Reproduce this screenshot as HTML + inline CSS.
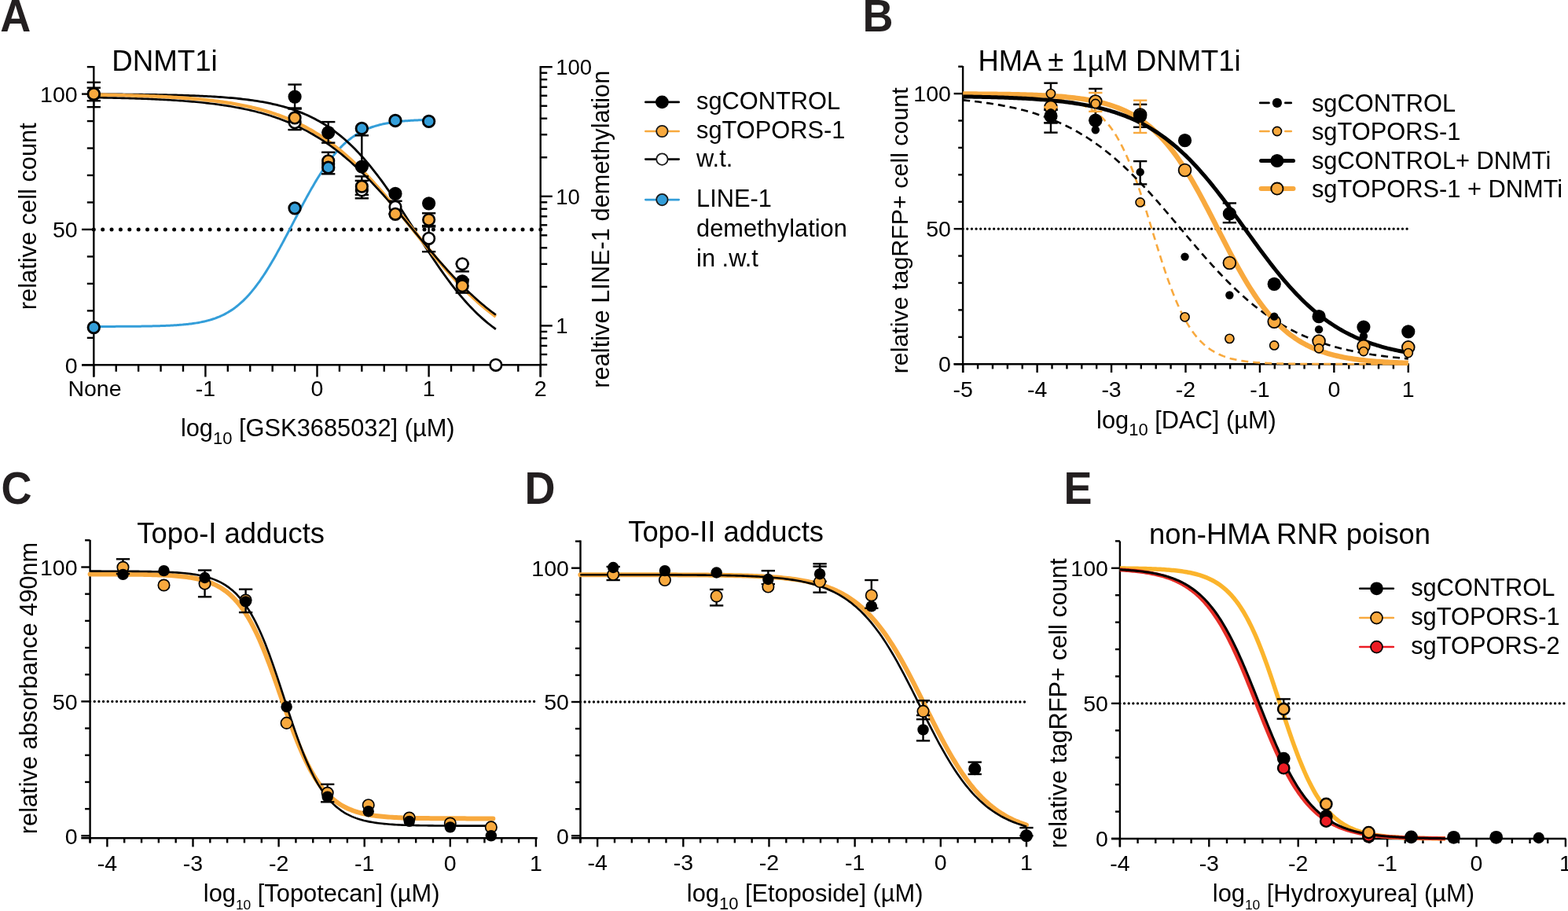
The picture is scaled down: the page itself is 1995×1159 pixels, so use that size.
<!DOCTYPE html><html><head><meta charset="utf-8"><title>Figure</title>
<style>html,body{margin:0;padding:0;background:#fff;overflow:hidden;}svg{display:block;}text{font-family:'Liberation Sans', Arial, sans-serif;}</style>
</head><body>
<svg width="1995" height="1159" viewBox="0 0 1995 1159">
<rect width="1995" height="1159" fill="#fff"/>
<text transform="translate(0.2,39.7) scale(1,1.054)" font-size="54" font-weight="bold" fill="#231F20">A</text>
<text transform="translate(1097.4,39.7) scale(1,1.054)" font-size="54" font-weight="bold" fill="#231F20">B</text>
<text transform="translate(1.6,640.7) scale(1,1.054)" font-size="54" font-weight="bold" fill="#231F20">C</text>
<text transform="translate(667.5,640.7) scale(1,1.054)" font-size="54" font-weight="bold" fill="#231F20">D</text>
<text transform="translate(1353.6,640.7) scale(1,1.054)" font-size="54" font-weight="bold" fill="#231F20">E</text>
<line x1="119.3" y1="84" x2="119.3" y2="479.5" stroke="#000" stroke-width="2.4" />
<line x1="104" y1="464.3" x2="688.9" y2="464.3" stroke="#000" stroke-width="2.4" />
<line x1="687.7" y1="84" x2="687.7" y2="479.5" stroke="#000" stroke-width="2.4" />
<line x1="104" y1="464.3" x2="119.3" y2="464.3" stroke="#000" stroke-width="2.4" />
<line x1="110.8" y1="429.83" x2="119.3" y2="429.83" stroke="#000" stroke-width="2.4" />
<line x1="110.8" y1="395.36" x2="119.3" y2="395.36" stroke="#000" stroke-width="2.4" />
<line x1="110.8" y1="360.89" x2="119.3" y2="360.89" stroke="#000" stroke-width="2.4" />
<line x1="110.8" y1="326.42" x2="119.3" y2="326.42" stroke="#000" stroke-width="2.4" />
<line x1="104" y1="291.95" x2="119.3" y2="291.95" stroke="#000" stroke-width="2.4" />
<line x1="110.8" y1="257.48" x2="119.3" y2="257.48" stroke="#000" stroke-width="2.4" />
<line x1="110.8" y1="223.01" x2="119.3" y2="223.01" stroke="#000" stroke-width="2.4" />
<line x1="110.8" y1="188.54" x2="119.3" y2="188.54" stroke="#000" stroke-width="2.4" />
<line x1="110.8" y1="154.07" x2="119.3" y2="154.07" stroke="#000" stroke-width="2.4" />
<line x1="104" y1="119.6" x2="119.3" y2="119.6" stroke="#000" stroke-width="2.4" />
<line x1="110.8" y1="85.13" x2="119.3" y2="85.13" stroke="#000" stroke-width="2.4" />
<line x1="119.3" y1="464.3" x2="119.3" y2="479.5" stroke="#000" stroke-width="2.4" />
<line x1="147.72" y1="464.3" x2="147.72" y2="472.8" stroke="#000" stroke-width="2.4" />
<line x1="176.14" y1="464.3" x2="176.14" y2="472.8" stroke="#000" stroke-width="2.4" />
<line x1="204.56" y1="464.3" x2="204.56" y2="472.8" stroke="#000" stroke-width="2.4" />
<line x1="232.98" y1="464.3" x2="232.98" y2="472.8" stroke="#000" stroke-width="2.4" />
<line x1="261.4" y1="464.3" x2="261.4" y2="479.5" stroke="#000" stroke-width="2.4" />
<line x1="289.82" y1="464.3" x2="289.82" y2="472.8" stroke="#000" stroke-width="2.4" />
<line x1="318.24" y1="464.3" x2="318.24" y2="472.8" stroke="#000" stroke-width="2.4" />
<line x1="346.66" y1="464.3" x2="346.66" y2="472.8" stroke="#000" stroke-width="2.4" />
<line x1="375.08" y1="464.3" x2="375.08" y2="472.8" stroke="#000" stroke-width="2.4" />
<line x1="403.5" y1="464.3" x2="403.5" y2="479.5" stroke="#000" stroke-width="2.4" />
<line x1="431.92" y1="464.3" x2="431.92" y2="472.8" stroke="#000" stroke-width="2.4" />
<line x1="460.34" y1="464.3" x2="460.34" y2="472.8" stroke="#000" stroke-width="2.4" />
<line x1="488.76" y1="464.3" x2="488.76" y2="472.8" stroke="#000" stroke-width="2.4" />
<line x1="517.18" y1="464.3" x2="517.18" y2="472.8" stroke="#000" stroke-width="2.4" />
<line x1="545.6" y1="464.3" x2="545.6" y2="479.5" stroke="#000" stroke-width="2.4" />
<line x1="574.02" y1="464.3" x2="574.02" y2="472.8" stroke="#000" stroke-width="2.4" />
<line x1="602.44" y1="464.3" x2="602.44" y2="472.8" stroke="#000" stroke-width="2.4" />
<line x1="630.86" y1="464.3" x2="630.86" y2="472.8" stroke="#000" stroke-width="2.4" />
<line x1="659.28" y1="464.3" x2="659.28" y2="472.8" stroke="#000" stroke-width="2.4" />
<line x1="687.7" y1="464.3" x2="687.7" y2="479.5" stroke="#000" stroke-width="2.4" />
<line x1="687.7" y1="463.95" x2="696.2" y2="463.95" stroke="#000" stroke-width="2.4" />
<line x1="687.7" y1="450.92" x2="696.2" y2="450.92" stroke="#000" stroke-width="2.4" />
<line x1="687.7" y1="439.9" x2="696.2" y2="439.9" stroke="#000" stroke-width="2.4" />
<line x1="687.7" y1="430.35" x2="696.2" y2="430.35" stroke="#000" stroke-width="2.4" />
<line x1="687.7" y1="421.93" x2="696.2" y2="421.93" stroke="#000" stroke-width="2.4" />
<line x1="687.7" y1="414.4" x2="702.8" y2="414.4" stroke="#000" stroke-width="2.4" />
<line x1="687.7" y1="364.85" x2="696.2" y2="364.85" stroke="#000" stroke-width="2.4" />
<line x1="687.7" y1="335.87" x2="696.2" y2="335.87" stroke="#000" stroke-width="2.4" />
<line x1="687.7" y1="315.3" x2="696.2" y2="315.3" stroke="#000" stroke-width="2.4" />
<line x1="687.7" y1="299.35" x2="696.2" y2="299.35" stroke="#000" stroke-width="2.4" />
<line x1="687.7" y1="286.32" x2="696.2" y2="286.32" stroke="#000" stroke-width="2.4" />
<line x1="687.7" y1="275.3" x2="696.2" y2="275.3" stroke="#000" stroke-width="2.4" />
<line x1="687.7" y1="265.75" x2="696.2" y2="265.75" stroke="#000" stroke-width="2.4" />
<line x1="687.7" y1="257.33" x2="696.2" y2="257.33" stroke="#000" stroke-width="2.4" />
<line x1="687.7" y1="249.8" x2="702.8" y2="249.8" stroke="#000" stroke-width="2.4" />
<line x1="687.7" y1="200.25" x2="696.2" y2="200.25" stroke="#000" stroke-width="2.4" />
<line x1="687.7" y1="171.27" x2="696.2" y2="171.27" stroke="#000" stroke-width="2.4" />
<line x1="687.7" y1="150.7" x2="696.2" y2="150.7" stroke="#000" stroke-width="2.4" />
<line x1="687.7" y1="134.75" x2="696.2" y2="134.75" stroke="#000" stroke-width="2.4" />
<line x1="687.7" y1="121.72" x2="696.2" y2="121.72" stroke="#000" stroke-width="2.4" />
<line x1="687.7" y1="110.7" x2="696.2" y2="110.7" stroke="#000" stroke-width="2.4" />
<line x1="687.7" y1="101.15" x2="696.2" y2="101.15" stroke="#000" stroke-width="2.4" />
<line x1="687.7" y1="92.73" x2="696.2" y2="92.73" stroke="#000" stroke-width="2.4" />
<line x1="687.7" y1="85.2" x2="702.8" y2="85.2" stroke="#000" stroke-width="2.4" />
<text x="98.6" y="474.5" font-size="28.5" text-anchor="end" fill="#000" >0</text>
<text x="98.6" y="302.15" font-size="28.5" text-anchor="end" fill="#000" >50</text>
<text x="98.6" y="129.8" font-size="28.5" text-anchor="end" fill="#000" >100</text>
<text x="120.5" y="504" font-size="28.5" text-anchor="middle" fill="#000" >None</text>
<text x="261.4" y="504" font-size="28.5" text-anchor="middle" fill="#000" >-1</text>
<text x="403.5" y="504" font-size="28.5" text-anchor="middle" fill="#000" >0</text>
<text x="545.6" y="504" font-size="28.5" text-anchor="middle" fill="#000" >1</text>
<text x="687.7" y="504" font-size="28.5" text-anchor="middle" fill="#000" >2</text>
<text x="707.2" y="424.2" font-size="27.5" text-anchor="start" fill="#000" >1</text>
<text x="707.2" y="259.6" font-size="27.5" text-anchor="start" fill="#000" >10</text>
<text x="707.2" y="95" font-size="27.5" text-anchor="start" fill="#000" >100</text>
<text x="142.2" y="90.2" font-size="36.7" text-anchor="start" fill="#000" >DNMT1i</text>
<text transform="translate(46.3,275.2) rotate(-90)" x="0" y="0" font-size="30.8" text-anchor="middle" >relative cell count</text>
<text transform="translate(775,291.7) rotate(-90)" x="0" y="0" font-size="30.8" text-anchor="middle" >realtive LINE-1 demethylation</text>
<text x="229.9" y="554.8" font-size="30.8">log<tspan font-size="22" dy="10.1">10</tspan><tspan dy="-10.1"> [GSK3685032] (µM)</tspan></text>
<line x1="119.3" y1="291.95" x2="688.5" y2="291.95" stroke="#000" stroke-width="5" stroke-linecap="round" stroke-dasharray="0 11.37"/>
<path d="M119.3,415.44 L120.72,415.44 L122.14,415.44 L123.56,415.44 L124.98,415.43 L126.41,415.43 L127.83,415.43 L129.25,415.43 L130.67,415.42 L132.09,415.42 L133.51,415.42 L134.93,415.41 L136.35,415.41 L137.77,415.4 L139.19,415.4 L140.62,415.4 L142.04,415.39 L143.46,415.39 L144.88,415.38 L146.3,415.38 L147.72,415.37 L149.14,415.37 L150.56,415.36 L151.98,415.35 L153.4,415.35 L154.83,415.34 L156.25,415.33 L157.67,415.32 L159.09,415.31 L160.51,415.31 L161.93,415.3 L163.35,415.29 L164.77,415.28 L166.19,415.27 L167.61,415.25 L169.04,415.24 L170.46,415.23 L171.88,415.22 L173.3,415.2 L174.72,415.19 L176.14,415.17 L177.56,415.15 L178.98,415.14 L180.4,415.12 L181.82,415.1 L183.25,415.08 L184.67,415.06 L186.09,415.03 L187.51,415.01 L188.93,414.98 L190.35,414.96 L191.77,414.93 L193.19,414.9 L194.61,414.87 L196.03,414.84 L197.46,414.8 L198.88,414.76 L200.3,414.73 L201.72,414.69 L203.14,414.64 L204.56,414.6 L205.98,414.55 L207.4,414.5 L208.82,414.45 L210.24,414.39 L211.66,414.34 L213.09,414.28 L214.51,414.21 L215.93,414.14 L217.35,414.07 L218.77,414 L220.19,413.92 L221.61,413.84 L223.03,413.75 L224.45,413.66 L225.88,413.56 L227.3,413.46 L228.72,413.35 L230.14,413.24 L231.56,413.12 L232.98,413 L234.4,412.86 L235.82,412.73 L237.24,412.58 L238.66,412.43 L240.09,412.27 L241.51,412.1 L242.93,411.92 L244.35,411.74 L245.77,411.54 L247.19,411.34 L248.61,411.12 L250.03,410.89 L251.45,410.65 L252.87,410.4 L254.29,410.14 L255.72,409.87 L257.14,409.58 L258.56,409.27 L259.98,408.95 L261.4,408.62 L262.82,408.27 L264.24,407.9 L265.66,407.52 L267.08,407.12 L268.5,406.69 L269.93,406.25 L271.35,405.79 L272.77,405.3 L274.19,404.8 L275.61,404.27 L277.03,403.71 L278.45,403.14 L279.87,402.53 L281.29,401.9 L282.71,401.24 L284.14,400.55 L285.56,399.84 L286.98,399.09 L288.4,398.31 L289.82,397.5 L291.24,396.66 L292.66,395.78 L294.08,394.87 L295.5,393.92 L296.93,392.93 L298.35,391.91 L299.77,390.85 L301.19,389.75 L302.61,388.61 L304.03,387.43 L305.45,386.21 L306.87,384.95 L308.29,383.64 L309.71,382.29 L311.13,380.9 L312.56,379.46 L313.98,377.98 L315.4,376.46 L316.82,374.89 L318.24,373.28 L319.66,371.62 L321.08,369.91 L322.5,368.17 L323.92,366.37 L325.35,364.54 L326.77,362.66 L328.19,360.73 L329.61,358.77 L331.03,356.76 L332.45,354.71 L333.87,352.61 L335.29,350.48 L336.71,348.31 L338.13,346.1 L339.56,343.85 L340.98,341.57 L342.4,339.25 L343.82,336.89 L345.24,334.51 L346.66,332.09 L348.08,329.64 L349.5,327.16 L350.92,324.66 L352.34,322.13 L353.76,319.57 L355.19,316.99 L356.61,314.39 L358.03,311.77 L359.45,309.14 L360.87,306.48 L362.29,303.81 L363.71,301.13 L365.13,298.44 L366.55,295.74 L367.98,293.03 L369.4,290.31 L370.82,287.59 L372.24,284.87 L373.66,282.14 L375.08,279.42 L376.5,276.7 L377.92,273.98 L379.34,271.27 L380.76,268.57 L382.19,265.88 L383.61,263.2 L385.03,260.53 L386.45,257.88 L387.87,255.24 L389.29,252.62 L390.71,250.02 L392.13,247.44 L393.55,244.89 L394.97,242.36 L396.39,239.85 L397.82,237.38 L399.24,234.93 L400.66,232.51 L402.08,230.13 L403.5,227.78 L404.92,225.46 L406.34,223.17 L407.76,220.93 L409.18,218.72 L410.6,216.55 L412.03,214.42 L413.45,212.32 L414.87,210.27 L416.29,208.27 L417.71,206.3 L419.13,204.38 L420.55,202.5 L421.97,200.66 L423.39,198.87 L424.81,197.13 L426.24,195.43 L427.66,193.77 L429.08,192.16 L430.5,190.59 L431.92,189.07 L433.34,187.59 L434.76,186.15 L436.18,184.76 L437.6,183.42 L439.02,182.11 L440.45,180.85 L441.87,179.63 L443.29,178.45 L444.71,177.31 L446.13,176.21 L447.55,175.15 L448.97,174.13 L450.39,173.15 L451.81,172.2 L453.24,171.29 L454.66,170.41 L456.08,169.57 L457.5,168.76 L458.92,167.98 L460.34,167.24 L461.76,166.52 L463.18,165.83 L464.6,165.18 L466.02,164.55 L467.45,163.94 L468.87,163.37 L470.29,162.81 L471.71,162.28 L473.13,161.78 L474.55,161.29 L475.97,160.83 L477.39,160.39 L478.81,159.97 L480.23,159.57 L481.65,159.18 L483.08,158.82 L484.5,158.47 L485.92,158.13 L487.34,157.82 L488.76,157.51 L490.18,157.22 L491.6,156.95 L493.02,156.69 L494.44,156.44 L495.87,156.2 L497.29,155.97 L498.71,155.76 L500.13,155.55 L501.55,155.36 L502.97,155.17 L504.39,154.99 L505.81,154.82 L507.23,154.66 L508.65,154.51 L510.07,154.37 L511.5,154.23 L512.92,154.1 L514.34,153.97 L515.76,153.86 L517.18,153.74 L518.6,153.64 L520.02,153.54 L521.44,153.44 L522.86,153.35 L524.28,153.26 L525.71,153.18 L527.13,153.1 L528.55,153.02 L529.97,152.95 L531.39,152.88 L532.81,152.82 L534.23,152.76 L535.65,152.7 L537.07,152.65 L538.5,152.59 L539.92,152.55 L541.34,152.5 L542.76,152.45 L544.18,152.41 L545.6,152.37" fill="none" stroke="#349ED9" stroke-width="3.0" stroke-linejoin="round" />
<path d="M119.3,119.81 L121.86,119.82 L124.42,119.83 L126.97,119.84 L129.53,119.86 L132.09,119.87 L134.65,119.88 L137.2,119.89 L139.76,119.91 L142.32,119.92 L144.88,119.94 L147.44,119.95 L149.99,119.97 L152.55,119.99 L155.11,120.01 L157.67,120.03 L160.22,120.05 L162.78,120.07 L165.34,120.09 L167.9,120.11 L170.46,120.14 L173.01,120.16 L175.57,120.19 L178.13,120.22 L180.69,120.25 L183.25,120.28 L185.8,120.31 L188.36,120.34 L190.92,120.38 L193.48,120.41 L196.03,120.45 L198.59,120.49 L201.15,120.53 L203.71,120.58 L206.27,120.62 L208.82,120.67 L211.38,120.72 L213.94,120.78 L216.5,120.83 L219.05,120.89 L221.61,120.95 L224.17,121.02 L226.73,121.08 L229.29,121.15 L231.84,121.23 L234.4,121.3 L236.96,121.38 L239.52,121.47 L242.07,121.56 L244.63,121.65 L247.19,121.74 L249.75,121.85 L252.31,121.95 L254.86,122.06 L257.42,122.18 L259.98,122.3 L262.54,122.43 L265.09,122.56 L267.65,122.7 L270.21,122.85 L272.77,123 L275.33,123.16 L277.88,123.32 L280.44,123.5 L283,123.68 L285.56,123.87 L288.11,124.07 L290.67,124.28 L293.23,124.5 L295.79,124.73 L298.35,124.97 L300.9,125.22 L303.46,125.49 L306.02,125.76 L308.58,126.05 L311.13,126.35 L313.69,126.66 L316.25,126.99 L318.81,127.33 L321.37,127.69 L323.92,128.06 L326.48,128.46 L329.04,128.86 L331.6,129.29 L334.16,129.74 L336.71,130.21 L339.27,130.69 L341.83,131.2 L344.39,131.73 L346.94,132.29 L349.5,132.87 L352.06,133.47 L354.62,134.1 L357.18,134.76 L359.73,135.45 L362.29,136.16 L364.85,136.91 L367.41,137.69 L369.96,138.5 L372.52,139.35 L375.08,140.23 L377.64,141.14 L380.2,142.1 L382.75,143.1 L385.31,144.13 L387.87,145.21 L390.43,146.33 L392.98,147.5 L395.54,148.71 L398.1,149.97 L400.66,151.28 L403.22,152.64 L405.77,154.05 L408.33,155.52 L410.89,157.04 L413.45,158.61 L416,160.25 L418.56,161.94 L421.12,163.69 L423.68,165.51 L426.24,167.38 L428.79,169.32 L431.35,171.33 L433.91,173.4 L436.47,175.54 L439.02,177.75 L441.58,180.03 L444.14,182.37 L446.7,184.79 L449.26,187.27 L451.81,189.83 L454.37,192.46 L456.93,195.16 L459.49,197.93 L462.05,200.78 L464.6,203.69 L467.16,206.67 L469.72,209.73 L472.28,212.85 L474.83,216.04 L477.39,219.29 L479.95,222.61 L482.51,225.99 L485.07,229.43 L487.62,232.93 L490.18,236.49 L492.74,240.09 L495.3,243.75 L497.85,247.46 L500.41,251.21 L502.97,255.01 L505.53,258.84 L508.09,262.7 L510.64,266.6 L513.2,270.52 L515.76,274.47 L518.32,278.43 L520.87,282.41 L523.43,286.4 L525.99,290.4 L528.55,294.39 L531.11,298.39 L533.66,302.37 L536.22,306.35 L538.78,310.31 L541.34,314.25 L543.89,318.17 L546.45,322.06 L549.01,325.92 L551.57,329.74 L554.13,333.52 L556.68,337.27 L559.24,340.96 L561.8,344.61 L564.36,348.21 L566.91,351.75 L569.47,355.24 L572.03,358.67 L574.59,362.03 L577.15,365.34 L579.7,368.58 L582.26,371.75 L584.82,374.86 L587.38,377.89 L589.94,380.86 L592.49,383.76 L595.05,386.59 L597.61,389.34 L600.17,392.03 L602.72,394.64 L605.28,397.18 L607.84,399.66 L610.4,402.06 L612.96,404.39 L615.51,406.65 L618.07,408.84 L620.63,410.96 L623.19,413.02 L625.74,415.01 L628.3,416.94 L630.86,418.8" fill="none" stroke="#000" stroke-width="2.8" stroke-linejoin="round" />
<path d="M119.3,120.58 L121.86,120.62 L124.42,120.65 L126.97,120.69 L129.53,120.73 L132.09,120.78 L134.65,120.82 L137.2,120.87 L139.76,120.91 L142.32,120.96 L144.88,121.01 L147.44,121.07 L149.99,121.12 L152.55,121.18 L155.11,121.24 L157.67,121.3 L160.22,121.36 L162.78,121.43 L165.34,121.5 L167.9,121.57 L170.46,121.64 L173.01,121.72 L175.57,121.8 L178.13,121.88 L180.69,121.96 L183.25,122.05 L185.8,122.14 L188.36,122.24 L190.92,122.34 L193.48,122.44 L196.03,122.55 L198.59,122.66 L201.15,122.77 L203.71,122.89 L206.27,123.01 L208.82,123.14 L211.38,123.27 L213.94,123.41 L216.5,123.55 L219.05,123.69 L221.61,123.85 L224.17,124 L226.73,124.17 L229.29,124.34 L231.84,124.51 L234.4,124.69 L236.96,124.88 L239.52,125.08 L242.07,125.28 L244.63,125.49 L247.19,125.71 L249.75,125.93 L252.31,126.17 L254.86,126.41 L257.42,126.66 L259.98,126.92 L262.54,127.19 L265.09,127.47 L267.65,127.76 L270.21,128.06 L272.77,128.37 L275.33,128.69 L277.88,129.02 L280.44,129.37 L283,129.72 L285.56,130.09 L288.11,130.48 L290.67,130.87 L293.23,131.28 L295.79,131.7 L298.35,132.14 L300.9,132.6 L303.46,133.07 L306.02,133.55 L308.58,134.06 L311.13,134.58 L313.69,135.11 L316.25,135.67 L318.81,136.25 L321.37,136.84 L323.92,137.46 L326.48,138.09 L329.04,138.75 L331.6,139.43 L334.16,140.13 L336.71,140.85 L339.27,141.6 L341.83,142.38 L344.39,143.17 L346.94,144 L349.5,144.85 L352.06,145.73 L354.62,146.63 L357.18,147.57 L359.73,148.53 L362.29,149.52 L364.85,150.55 L367.41,151.61 L369.96,152.69 L372.52,153.81 L375.08,154.97 L377.64,156.16 L380.2,157.38 L382.75,158.64 L385.31,159.94 L387.87,161.28 L390.43,162.65 L392.98,164.06 L395.54,165.51 L398.1,167 L400.66,168.53 L403.22,170.1 L405.77,171.71 L408.33,173.37 L410.89,175.06 L413.45,176.8 L416,178.59 L418.56,180.41 L421.12,182.29 L423.68,184.2 L426.24,186.16 L428.79,188.17 L431.35,190.22 L433.91,192.32 L436.47,194.46 L439.02,196.64 L441.58,198.88 L444.14,201.15 L446.7,203.47 L449.26,205.84 L451.81,208.25 L454.37,210.7 L456.93,213.2 L459.49,215.74 L462.05,218.32 L464.6,220.94 L467.16,223.6 L469.72,226.31 L472.28,229.04 L474.83,231.82 L477.39,234.63 L479.95,237.48 L482.51,240.36 L485.07,243.28 L487.62,246.22 L490.18,249.19 L492.74,252.19 L495.3,255.22 L497.85,258.27 L500.41,261.34 L502.97,264.43 L505.53,267.54 L508.09,270.67 L510.64,273.81 L513.2,276.96 L515.76,280.12 L518.32,283.29 L520.87,286.47 L523.43,289.65 L525.99,292.83 L528.55,296.02 L531.11,299.19 L533.66,302.37 L536.22,305.54 L538.78,308.69 L541.34,311.84 L543.89,314.97 L546.45,318.09 L549.01,321.19 L551.57,324.27 L554.13,327.33 L556.68,330.37 L559.24,333.38 L561.8,336.36 L564.36,339.32 L566.91,342.25 L569.47,345.14 L572.03,348 L574.59,350.83 L577.15,353.63 L579.7,356.38 L582.26,359.1 L584.82,361.78 L587.38,364.42 L589.94,367.02 L592.49,369.58 L595.05,372.09 L597.61,374.57 L600.17,376.99 L602.72,379.38 L605.28,381.72 L607.84,384.02 L610.4,386.27 L612.96,388.48 L615.51,390.64 L618.07,392.75 L620.63,394.83 L623.19,396.85 L625.74,398.83 L628.3,400.77 L630.86,402.66" fill="none" stroke="#F8A93E" stroke-width="4.4" stroke-linejoin="round" />
<path d="M119.3,124.14 L121.86,124.18 L124.42,124.22 L126.97,124.26 L129.53,124.31 L132.09,124.35 L134.65,124.4 L137.2,124.45 L139.76,124.5 L142.32,124.56 L144.88,124.61 L147.44,124.67 L149.99,124.73 L152.55,124.79 L155.11,124.85 L157.67,124.92 L160.22,124.99 L162.78,125.06 L165.34,125.13 L167.9,125.21 L170.46,125.29 L173.01,125.37 L175.57,125.45 L178.13,125.54 L180.69,125.63 L183.25,125.72 L185.8,125.82 L188.36,125.92 L190.92,126.03 L193.48,126.14 L196.03,126.25 L198.59,126.36 L201.15,126.49 L203.71,126.61 L206.27,126.74 L208.82,126.87 L211.38,127.01 L213.94,127.16 L216.5,127.31 L219.05,127.46 L221.61,127.62 L224.17,127.79 L226.73,127.96 L229.29,128.13 L231.84,128.32 L234.4,128.51 L236.96,128.71 L239.52,128.91 L242.07,129.12 L244.63,129.34 L247.19,129.57 L249.75,129.8 L252.31,130.05 L254.86,130.3 L257.42,130.56 L259.98,130.83 L262.54,131.11 L265.09,131.39 L267.65,131.69 L270.21,132 L272.77,132.32 L275.33,132.65 L277.88,132.99 L280.44,133.35 L283,133.72 L285.56,134.09 L288.11,134.49 L290.67,134.89 L293.23,135.31 L295.79,135.74 L298.35,136.19 L300.9,136.66 L303.46,137.14 L306.02,137.63 L308.58,138.14 L311.13,138.67 L313.69,139.22 L316.25,139.78 L318.81,140.37 L321.37,140.97 L323.92,141.59 L326.48,142.23 L329.04,142.9 L331.6,143.58 L334.16,144.29 L336.71,145.02 L339.27,145.77 L341.83,146.55 L344.39,147.35 L346.94,148.18 L349.5,149.03 L352.06,149.91 L354.62,150.81 L357.18,151.75 L359.73,152.71 L362.29,153.7 L364.85,154.72 L367.41,155.77 L369.96,156.86 L372.52,157.97 L375.08,159.12 L377.64,160.3 L380.2,161.51 L382.75,162.76 L385.31,164.04 L387.87,165.36 L390.43,166.71 L392.98,168.11 L395.54,169.53 L398.1,171 L400.66,172.51 L403.22,174.05 L405.77,175.64 L408.33,177.26 L410.89,178.92 L413.45,180.63 L416,182.38 L418.56,184.16 L421.12,185.99 L423.68,187.87 L426.24,189.78 L428.79,191.74 L431.35,193.74 L433.91,195.78 L436.47,197.87 L439.02,199.99 L441.58,202.16 L444.14,204.38 L446.7,206.63 L449.26,208.93 L451.81,211.27 L454.37,213.64 L456.93,216.06 L459.49,218.52 L462.05,221.02 L464.6,223.56 L467.16,226.14 L469.72,228.75 L472.28,231.4 L474.83,234.08 L477.39,236.8 L479.95,239.55 L482.51,242.33 L485.07,245.15 L487.62,247.99 L490.18,250.86 L492.74,253.75 L495.3,256.67 L497.85,259.61 L500.41,262.58 L502.97,265.56 L505.53,268.56 L508.09,271.58 L510.64,274.61 L513.2,277.66 L515.76,280.71 L518.32,283.77 L520.87,286.84 L523.43,289.91 L525.99,292.99 L528.55,296.07 L531.11,299.14 L533.66,302.21 L536.22,305.28 L538.78,308.33 L541.34,311.38 L543.89,314.42 L546.45,317.44 L549.01,320.45 L551.57,323.44 L554.13,326.42 L556.68,329.37 L559.24,332.3 L561.8,335.21 L564.36,338.09 L566.91,340.94 L569.47,343.77 L572.03,346.56 L574.59,349.33 L577.15,352.06 L579.7,354.76 L582.26,357.42 L584.82,360.05 L587.38,362.65 L589.94,365.2 L592.49,367.72 L595.05,370.19 L597.61,372.63 L600.17,375.03 L602.72,377.39 L605.28,379.7 L607.84,381.97 L610.4,384.21 L612.96,386.39 L615.51,388.54 L618.07,390.64 L620.63,392.71 L623.19,394.72 L625.74,396.7 L628.3,398.63 L630.86,400.53" fill="none" stroke="#000" stroke-width="2.6" stroke-linejoin="round" />
<line x1="119.3" y1="104.78" x2="119.3" y2="136.15" stroke="#000" stroke-width="2.4" />
<line x1="110.65" y1="104.78" x2="127.95" y2="104.78" stroke="#000" stroke-width="2.4" />
<line x1="110.65" y1="136.15" x2="127.95" y2="136.15" stroke="#000" stroke-width="2.4" />
<line x1="119.3" y1="111.67" x2="119.3" y2="128.22" stroke="#000" stroke-width="2.4" />
<line x1="110.65" y1="111.67" x2="127.95" y2="111.67" stroke="#000" stroke-width="2.4" />
<line x1="110.65" y1="128.22" x2="127.95" y2="128.22" stroke="#000" stroke-width="2.4" />
<line x1="375.08" y1="107.54" x2="375.08" y2="138.56" stroke="#000" stroke-width="2.4" />
<line x1="366.43" y1="107.54" x2="383.73" y2="107.54" stroke="#000" stroke-width="2.4" />
<line x1="366.43" y1="138.56" x2="383.73" y2="138.56" stroke="#000" stroke-width="2.4" />
<line x1="375.08" y1="137.52" x2="375.08" y2="165.1" stroke="#000" stroke-width="2.4" />
<line x1="366.43" y1="137.52" x2="383.73" y2="137.52" stroke="#000" stroke-width="2.4" />
<line x1="366.43" y1="165.1" x2="383.73" y2="165.1" stroke="#000" stroke-width="2.4" />
<line x1="417.71" y1="155.1" x2="417.71" y2="181.65" stroke="#000" stroke-width="2.4" />
<line x1="409.06" y1="155.1" x2="426.36" y2="155.1" stroke="#000" stroke-width="2.4" />
<line x1="409.06" y1="181.65" x2="426.36" y2="181.65" stroke="#000" stroke-width="2.4" />
<line x1="417.71" y1="193.71" x2="417.71" y2="221.29" stroke="#000" stroke-width="2.4" />
<line x1="409.06" y1="193.71" x2="426.36" y2="193.71" stroke="#000" stroke-width="2.4" />
<line x1="409.06" y1="221.29" x2="426.36" y2="221.29" stroke="#000" stroke-width="2.4" />
<line x1="460.34" y1="172.34" x2="460.34" y2="211.98" stroke="#000" stroke-width="2.4" />
<line x1="451.69" y1="172.34" x2="468.99" y2="172.34" stroke="#000" stroke-width="2.4" />
<line x1="451.69" y1="211.98" x2="468.99" y2="211.98" stroke="#000" stroke-width="2.4" />
<line x1="460.34" y1="224.39" x2="460.34" y2="252.31" stroke="#000" stroke-width="2.4" />
<line x1="451.69" y1="224.39" x2="468.99" y2="224.39" stroke="#000" stroke-width="2.4" />
<line x1="451.69" y1="252.31" x2="468.99" y2="252.31" stroke="#000" stroke-width="2.4" />
<line x1="460.34" y1="229.9" x2="460.34" y2="247.83" stroke="#000" stroke-width="2.4" />
<line x1="451.69" y1="229.9" x2="468.99" y2="229.9" stroke="#000" stroke-width="2.4" />
<line x1="451.69" y1="247.83" x2="468.99" y2="247.83" stroke="#000" stroke-width="2.4" />
<line x1="502.97" y1="255.76" x2="502.97" y2="272.3" stroke="#000" stroke-width="2.4" />
<line x1="494.32" y1="255.76" x2="511.62" y2="255.76" stroke="#000" stroke-width="2.4" />
<line x1="494.32" y1="272.3" x2="511.62" y2="272.3" stroke="#000" stroke-width="2.4" />
<line x1="545.6" y1="271.27" x2="545.6" y2="287.12" stroke="#000" stroke-width="2.4" />
<line x1="536.95" y1="271.27" x2="554.25" y2="271.27" stroke="#000" stroke-width="2.4" />
<line x1="536.95" y1="287.12" x2="554.25" y2="287.12" stroke="#000" stroke-width="2.4" />
<line x1="545.6" y1="288.5" x2="545.6" y2="320.22" stroke="#000" stroke-width="2.4" />
<line x1="536.95" y1="288.5" x2="554.25" y2="288.5" stroke="#000" stroke-width="2.4" />
<line x1="536.95" y1="320.22" x2="554.25" y2="320.22" stroke="#000" stroke-width="2.4" />
<line x1="588.23" y1="335.73" x2="588.23" y2="345.38" stroke="#000" stroke-width="2.4" />
<line x1="579.58" y1="335.73" x2="596.88" y2="335.73" stroke="#000" stroke-width="2.4" />
<line x1="579.58" y1="345.38" x2="596.88" y2="345.38" stroke="#000" stroke-width="2.4" />
<line x1="588.23" y1="355.72" x2="588.23" y2="372.61" stroke="#000" stroke-width="2.4" />
<line x1="579.58" y1="355.72" x2="596.88" y2="355.72" stroke="#000" stroke-width="2.4" />
<line x1="579.58" y1="372.61" x2="596.88" y2="372.61" stroke="#000" stroke-width="2.4" />
<circle cx="119.3" cy="119.6" r="7.3" fill="#fff" stroke="#000" stroke-width="2.6"/>
<circle cx="375.08" cy="155.79" r="7.3" fill="#fff" stroke="#000" stroke-width="2.6"/>
<circle cx="417.71" cy="208.53" r="7.3" fill="#fff" stroke="#000" stroke-width="2.6"/>
<circle cx="460.34" cy="241.97" r="7.3" fill="#fff" stroke="#000" stroke-width="2.6"/>
<circle cx="502.97" cy="263.34" r="7.3" fill="#fff" stroke="#000" stroke-width="2.6"/>
<circle cx="545.6" cy="303.33" r="7.3" fill="#fff" stroke="#000" stroke-width="2.6"/>
<circle cx="588.23" cy="335.73" r="7.3" fill="#fff" stroke="#000" stroke-width="2.6"/>
<circle cx="630.86" cy="464.3" r="7.3" fill="#fff" stroke="#000" stroke-width="2.6"/>
<circle cx="119.3" cy="119.6" r="8.6" fill="#000"/>
<circle cx="375.08" cy="123.05" r="8.6" fill="#000"/>
<circle cx="417.71" cy="168.55" r="8.6" fill="#000"/>
<circle cx="460.34" cy="211.98" r="8.6" fill="#000"/>
<circle cx="502.97" cy="246.45" r="8.6" fill="#000"/>
<circle cx="545.6" cy="258.86" r="8.6" fill="#000"/>
<circle cx="588.23" cy="357.79" r="8.6" fill="#000"/>
<circle cx="119.3" cy="119.6" r="7.3" fill="#F8A93E" stroke="#000" stroke-width="2.6"/>
<circle cx="375.08" cy="149.93" r="7.3" fill="#F8A93E" stroke="#000" stroke-width="2.6"/>
<circle cx="417.71" cy="204.74" r="7.3" fill="#F8A93E" stroke="#000" stroke-width="2.6"/>
<circle cx="460.34" cy="237.14" r="7.3" fill="#F8A93E" stroke="#000" stroke-width="2.6"/>
<circle cx="502.97" cy="272.3" r="7.3" fill="#F8A93E" stroke="#000" stroke-width="2.6"/>
<circle cx="545.6" cy="279.54" r="7.3" fill="#F8A93E" stroke="#000" stroke-width="2.6"/>
<circle cx="588.23" cy="363.65" r="7.3" fill="#F8A93E" stroke="#000" stroke-width="2.6"/>
<circle cx="119.3" cy="416.58" r="7.3" fill="#349ED9" stroke="#000" stroke-width="2.8"/>
<circle cx="375.08" cy="264.86" r="7.3" fill="#349ED9" stroke="#000" stroke-width="2.8"/>
<circle cx="417.71" cy="213.14" r="7.3" fill="#349ED9" stroke="#000" stroke-width="2.8"/>
<circle cx="460.34" cy="163.38" r="7.3" fill="#349ED9" stroke="#000" stroke-width="2.8"/>
<circle cx="502.97" cy="153.43" r="7.3" fill="#349ED9" stroke="#000" stroke-width="2.8"/>
<circle cx="545.6" cy="154.37" r="7.3" fill="#349ED9" stroke="#000" stroke-width="2.8"/>
<line x1="821.3" y1="129.9" x2="863.7" y2="129.9" stroke="#000" stroke-width="2.6" stroke-linecap="round"/>
<circle cx="842.4" cy="129.9" r="8.4" fill="#000"/>
<text x="886.07" y="138.9" font-size="30.8" text-anchor="start" fill="#000" >sgCONTROL</text>
<line x1="821.3" y1="167" x2="863.7" y2="167" stroke="#F8A93E" stroke-width="2.6" stroke-linecap="round"/>
<circle cx="842.4" cy="167" r="7.2" fill="#F8A93E" stroke="#1a1a1a" stroke-width="1.8"/>
<text x="886.07" y="176" font-size="30.8" text-anchor="start" fill="#000" >sgTOPORS-1</text>
<line x1="821.3" y1="202.6" x2="863.7" y2="202.6" stroke="#000" stroke-width="2.6" stroke-linecap="round"/>
<circle cx="842.4" cy="202.6" r="7.2" fill="#fff" stroke="#1a1a1a" stroke-width="1.8"/>
<text x="886.07" y="211.6" font-size="30.8" text-anchor="start" fill="#000" >w.t.</text>
<line x1="821.3" y1="254.1" x2="863.7" y2="254.1" stroke="#349ED9" stroke-width="2.6" stroke-linecap="round"/>
<circle cx="842.4" cy="254.1" r="7.2" fill="#349ED9" stroke="#1a1a1a" stroke-width="1.8"/>
<text x="886.07" y="263.1" font-size="30.8" text-anchor="start" fill="#000" >LINE-1</text>
<text x="886.07" y="300.7" font-size="30.8" text-anchor="start" fill="#000" >demethylation</text>
<text x="886.07" y="338.6" font-size="30.8" text-anchor="start" fill="#000" >in .w.t</text>
<line x1="1225.1" y1="84" x2="1225.1" y2="474" stroke="#000" stroke-width="2.4" />
<line x1="1213.6" y1="463.2" x2="1792.7" y2="463.2" stroke="#000" stroke-width="2.4" />
<line x1="1213.6" y1="463.2" x2="1225.1" y2="463.2" stroke="#000" stroke-width="2.4" />
<line x1="1219.2" y1="428.79" x2="1225.1" y2="428.79" stroke="#000" stroke-width="2.4" />
<line x1="1219.2" y1="394.38" x2="1225.1" y2="394.38" stroke="#000" stroke-width="2.4" />
<line x1="1219.2" y1="359.97" x2="1225.1" y2="359.97" stroke="#000" stroke-width="2.4" />
<line x1="1219.2" y1="325.56" x2="1225.1" y2="325.56" stroke="#000" stroke-width="2.4" />
<line x1="1213.6" y1="291.15" x2="1225.1" y2="291.15" stroke="#000" stroke-width="2.4" />
<line x1="1219.2" y1="256.74" x2="1225.1" y2="256.74" stroke="#000" stroke-width="2.4" />
<line x1="1219.2" y1="222.33" x2="1225.1" y2="222.33" stroke="#000" stroke-width="2.4" />
<line x1="1219.2" y1="187.92" x2="1225.1" y2="187.92" stroke="#000" stroke-width="2.4" />
<line x1="1219.2" y1="153.51" x2="1225.1" y2="153.51" stroke="#000" stroke-width="2.4" />
<line x1="1213.6" y1="119.1" x2="1225.1" y2="119.1" stroke="#000" stroke-width="2.4" />
<line x1="1219.2" y1="84.69" x2="1225.1" y2="84.69" stroke="#000" stroke-width="2.4" />
<line x1="1225.2" y1="463.2" x2="1225.2" y2="474" stroke="#000" stroke-width="2.4" />
<line x1="1244.09" y1="463.2" x2="1244.09" y2="469.4" stroke="#000" stroke-width="2.4" />
<line x1="1262.97" y1="463.2" x2="1262.97" y2="469.4" stroke="#000" stroke-width="2.4" />
<line x1="1281.86" y1="463.2" x2="1281.86" y2="469.4" stroke="#000" stroke-width="2.4" />
<line x1="1300.74" y1="463.2" x2="1300.74" y2="469.4" stroke="#000" stroke-width="2.4" />
<line x1="1319.63" y1="463.2" x2="1319.63" y2="474" stroke="#000" stroke-width="2.4" />
<line x1="1338.52" y1="463.2" x2="1338.52" y2="469.4" stroke="#000" stroke-width="2.4" />
<line x1="1357.4" y1="463.2" x2="1357.4" y2="469.4" stroke="#000" stroke-width="2.4" />
<line x1="1376.29" y1="463.2" x2="1376.29" y2="469.4" stroke="#000" stroke-width="2.4" />
<line x1="1395.17" y1="463.2" x2="1395.17" y2="469.4" stroke="#000" stroke-width="2.4" />
<line x1="1414.06" y1="463.2" x2="1414.06" y2="474" stroke="#000" stroke-width="2.4" />
<line x1="1432.95" y1="463.2" x2="1432.95" y2="469.4" stroke="#000" stroke-width="2.4" />
<line x1="1451.83" y1="463.2" x2="1451.83" y2="469.4" stroke="#000" stroke-width="2.4" />
<line x1="1470.72" y1="463.2" x2="1470.72" y2="469.4" stroke="#000" stroke-width="2.4" />
<line x1="1489.6" y1="463.2" x2="1489.6" y2="469.4" stroke="#000" stroke-width="2.4" />
<line x1="1508.49" y1="463.2" x2="1508.49" y2="474" stroke="#000" stroke-width="2.4" />
<line x1="1527.38" y1="463.2" x2="1527.38" y2="469.4" stroke="#000" stroke-width="2.4" />
<line x1="1546.26" y1="463.2" x2="1546.26" y2="469.4" stroke="#000" stroke-width="2.4" />
<line x1="1565.15" y1="463.2" x2="1565.15" y2="469.4" stroke="#000" stroke-width="2.4" />
<line x1="1584.03" y1="463.2" x2="1584.03" y2="469.4" stroke="#000" stroke-width="2.4" />
<line x1="1602.92" y1="463.2" x2="1602.92" y2="474" stroke="#000" stroke-width="2.4" />
<line x1="1621.81" y1="463.2" x2="1621.81" y2="469.4" stroke="#000" stroke-width="2.4" />
<line x1="1640.69" y1="463.2" x2="1640.69" y2="469.4" stroke="#000" stroke-width="2.4" />
<line x1="1659.58" y1="463.2" x2="1659.58" y2="469.4" stroke="#000" stroke-width="2.4" />
<line x1="1678.46" y1="463.2" x2="1678.46" y2="469.4" stroke="#000" stroke-width="2.4" />
<line x1="1697.35" y1="463.2" x2="1697.35" y2="474" stroke="#000" stroke-width="2.4" />
<line x1="1716.24" y1="463.2" x2="1716.24" y2="469.4" stroke="#000" stroke-width="2.4" />
<line x1="1735.12" y1="463.2" x2="1735.12" y2="469.4" stroke="#000" stroke-width="2.4" />
<line x1="1754.01" y1="463.2" x2="1754.01" y2="469.4" stroke="#000" stroke-width="2.4" />
<line x1="1772.89" y1="463.2" x2="1772.89" y2="469.4" stroke="#000" stroke-width="2.4" />
<line x1="1791.78" y1="463.2" x2="1791.78" y2="474" stroke="#000" stroke-width="2.4" />
<text x="1209.9" y="473.4" font-size="28.5" text-anchor="end" fill="#000" >0</text>
<text x="1209.9" y="301.35" font-size="28.5" text-anchor="end" fill="#000" >50</text>
<text x="1209.9" y="129.3" font-size="28.5" text-anchor="end" fill="#000" >100</text>
<text x="1225.2" y="505" font-size="28.5" text-anchor="middle" fill="#000" >-5</text>
<text x="1319.63" y="505" font-size="28.5" text-anchor="middle" fill="#000" >-4</text>
<text x="1414.06" y="505" font-size="28.5" text-anchor="middle" fill="#000" >-3</text>
<text x="1508.49" y="505" font-size="28.5" text-anchor="middle" fill="#000" >-2</text>
<text x="1602.92" y="505" font-size="28.5" text-anchor="middle" fill="#000" >-1</text>
<text x="1697.35" y="505" font-size="28.5" text-anchor="middle" fill="#000" >0</text>
<text x="1791.78" y="505" font-size="28.5" text-anchor="middle" fill="#000" >1</text>
<text x="1244.4" y="89.8" font-size="36.4" text-anchor="start" fill="#000" >HMA ± 1µM DNMT1i</text>
<text transform="translate(1155,293.3) rotate(-90)" x="0" y="0" font-size="30.4" text-anchor="middle" >relative tagRFP+ cell count</text>
<text x="1395.1" y="545.1" font-size="30.8">log<tspan font-size="22" dy="9.3">10</tspan><tspan dy="-9.3"> [DAC] (µM)</tspan></text>
<line x1="1225.1" y1="291.15" x2="1791" y2="291.15" stroke="#000" stroke-width="3.3" stroke-linecap="round" stroke-dasharray="0 5.65"/>
<path d="M1225.2,122.92 L1228.03,122.92 L1230.87,122.92 L1233.7,122.93 L1236.53,122.93 L1239.36,122.94 L1242.2,122.95 L1245.03,122.95 L1247.86,122.96 L1250.7,122.97 L1253.53,122.98 L1256.36,122.99 L1259.19,123 L1262.03,123.02 L1264.86,123.03 L1267.69,123.05 L1270.53,123.07 L1273.36,123.09 L1276.19,123.11 L1279.03,123.14 L1281.86,123.17 L1284.69,123.2 L1287.52,123.24 L1290.36,123.28 L1293.19,123.32 L1296.02,123.37 L1298.86,123.43 L1301.69,123.49 L1304.52,123.56 L1307.35,123.64 L1310.19,123.72 L1313.02,123.82 L1315.85,123.93 L1318.69,124.05 L1321.52,124.18 L1324.35,124.33 L1327.18,124.5 L1330.02,124.68 L1332.85,124.89 L1335.68,125.12 L1338.52,125.37 L1341.35,125.66 L1344.18,125.97 L1347.01,126.33 L1349.85,126.72 L1352.68,127.15 L1355.51,127.64 L1358.35,128.18 L1361.18,128.78 L1364.01,129.45 L1366.85,130.19 L1369.68,131.01 L1372.51,131.92 L1375.34,132.93 L1378.18,134.05 L1381.01,135.29 L1383.84,136.67 L1386.68,138.19 L1389.51,139.86 L1392.34,141.71 L1395.17,143.75 L1398.01,145.99 L1400.84,148.46 L1403.67,151.16 L1406.51,154.12 L1409.34,157.36 L1412.17,160.89 L1415,164.73 L1417.84,168.91 L1420.67,173.43 L1423.5,178.31 L1426.34,183.56 L1429.17,189.19 L1432,195.21 L1434.83,201.63 L1437.67,208.42 L1440.5,215.6 L1443.33,223.14 L1446.17,231.03 L1449,239.24 L1451.83,247.73 L1454.66,256.48 L1457.5,265.43 L1460.33,274.54 L1463.16,283.77 L1466,293.04 L1468.83,302.32 L1471.66,311.54 L1474.5,320.65 L1477.33,329.61 L1480.16,338.35 L1482.99,346.85 L1485.83,355.06 L1488.66,362.94 L1491.49,370.48 L1494.33,377.66 L1497.16,384.46 L1499.99,390.87 L1502.82,396.89 L1505.66,402.53 L1508.49,407.78 L1511.32,412.66 L1514.16,417.18 L1516.99,421.35 L1519.82,425.19 L1522.65,428.73 L1525.49,431.96 L1528.32,434.92 L1531.15,437.63 L1533.99,440.09 L1536.82,442.34 L1539.65,444.37 L1542.48,446.22 L1545.32,447.9 L1548.15,449.42 L1550.98,450.79 L1553.82,452.03 L1556.65,453.15 L1559.48,454.16 L1562.32,455.08 L1565.15,455.9 L1567.98,456.64 L1570.81,457.3 L1573.65,457.9 L1576.48,458.44 L1579.31,458.93 L1582.15,459.37 L1584.98,459.76 L1587.81,460.11 L1590.64,460.43 L1593.48,460.71 L1596.31,460.97 L1599.14,461.2 L1601.98,461.4 L1604.81,461.59 L1607.64,461.75 L1610.47,461.9 L1613.31,462.04 L1616.14,462.16 L1618.97,462.26 L1621.81,462.36 L1624.64,462.45 L1627.47,462.53 L1630.3,462.59 L1633.14,462.66 L1635.97,462.71 L1638.8,462.76 L1641.64,462.81 L1644.47,462.85 L1647.3,462.89 L1650.14,462.92 L1652.97,462.95 L1655.8,462.97 L1658.63,463 L1661.47,463.02 L1664.3,463.04 L1667.13,463.05 L1669.97,463.07 L1672.8,463.08 L1675.63,463.09 L1678.46,463.11 L1681.3,463.12 L1684.13,463.12 L1686.96,463.13 L1689.8,463.14 L1692.63,463.15 L1695.46,463.15 L1698.29,463.16 L1701.13,463.16 L1703.96,463.16 L1706.79,463.17 L1709.63,463.17 L1712.46,463.17 L1715.29,463.18 L1718.12,463.18 L1720.96,463.18 L1723.79,463.18 L1726.62,463.19 L1729.46,463.19 L1732.29,463.19 L1735.12,463.19 L1737.95,463.19 L1740.79,463.19 L1743.62,463.19 L1746.45,463.19 L1749.29,463.19 L1752.12,463.19 L1754.95,463.2 L1757.79,463.2 L1760.62,463.2 L1763.45,463.2 L1766.28,463.2 L1769.12,463.2 L1771.95,463.2 L1774.78,463.2 L1777.62,463.2 L1780.45,463.2 L1783.28,463.2 L1786.11,463.2 L1788.95,463.2 L1791.78,463.2" fill="none" stroke="#F8A93E" stroke-width="2.6" stroke-linejoin="round" stroke-dasharray="9 6"/>
<path d="M1225.2,127.38 L1228.03,127.66 L1230.87,127.95 L1233.7,128.25 L1236.53,128.57 L1239.36,128.89 L1242.2,129.23 L1245.03,129.58 L1247.86,129.94 L1250.7,130.32 L1253.53,130.71 L1256.36,131.12 L1259.19,131.54 L1262.03,131.98 L1264.86,132.43 L1267.69,132.9 L1270.53,133.39 L1273.36,133.9 L1276.19,134.42 L1279.03,134.97 L1281.86,135.53 L1284.69,136.12 L1287.52,136.72 L1290.36,137.35 L1293.19,138 L1296.02,138.68 L1298.86,139.37 L1301.69,140.1 L1304.52,140.85 L1307.35,141.62 L1310.19,142.42 L1313.02,143.25 L1315.85,144.11 L1318.69,145 L1321.52,145.92 L1324.35,146.86 L1327.18,147.85 L1330.02,148.86 L1332.85,149.91 L1335.68,150.99 L1338.52,152.11 L1341.35,153.26 L1344.18,154.45 L1347.01,155.68 L1349.85,156.95 L1352.68,158.26 L1355.51,159.61 L1358.35,161 L1361.18,162.43 L1364.01,163.91 L1366.85,165.43 L1369.68,166.99 L1372.51,168.6 L1375.34,170.26 L1378.18,171.96 L1381.01,173.71 L1383.84,175.51 L1386.68,177.35 L1389.51,179.25 L1392.34,181.19 L1395.17,183.19 L1398.01,185.23 L1400.84,187.32 L1403.67,189.47 L1406.51,191.67 L1409.34,193.91 L1412.17,196.21 L1415,198.56 L1417.84,200.96 L1420.67,203.41 L1423.5,205.91 L1426.34,208.46 L1429.17,211.05 L1432,213.7 L1434.83,216.39 L1437.67,219.13 L1440.5,221.92 L1443.33,224.75 L1446.17,227.63 L1449,230.54 L1451.83,233.5 L1454.66,236.5 L1457.5,239.54 L1460.33,242.61 L1463.16,245.72 L1466,248.85 L1468.83,252.02 L1471.66,255.22 L1474.5,258.45 L1477.33,261.7 L1480.16,264.97 L1482.99,268.26 L1485.83,271.57 L1488.66,274.9 L1491.49,278.23 L1494.33,281.58 L1497.16,284.94 L1499.99,288.3 L1502.82,291.66 L1505.66,295.02 L1508.49,298.38 L1511.32,301.73 L1514.16,305.08 L1516.99,308.41 L1519.82,311.73 L1522.65,315.04 L1525.49,318.33 L1528.32,321.6 L1531.15,324.84 L1533.99,328.06 L1536.82,331.26 L1539.65,334.42 L1542.48,337.55 L1545.32,340.65 L1548.15,343.72 L1550.98,346.75 L1553.82,349.74 L1556.65,352.69 L1559.48,355.6 L1562.32,358.46 L1565.15,361.28 L1567.98,364.06 L1570.81,366.79 L1573.65,369.48 L1576.48,372.11 L1579.31,374.7 L1582.15,377.24 L1584.98,379.73 L1587.81,382.17 L1590.64,384.56 L1593.48,386.9 L1596.31,389.18 L1599.14,391.42 L1601.98,393.61 L1604.81,395.74 L1607.64,397.83 L1610.47,399.86 L1613.31,401.85 L1616.14,403.78 L1618.97,405.66 L1621.81,407.5 L1624.64,409.29 L1627.47,411.03 L1630.3,412.72 L1633.14,414.37 L1635.97,415.97 L1638.8,417.52 L1641.64,419.03 L1644.47,420.5 L1647.3,421.92 L1650.14,423.31 L1652.97,424.65 L1655.8,425.95 L1658.63,427.21 L1661.47,428.43 L1664.3,429.61 L1667.13,430.76 L1669.97,431.87 L1672.8,432.95 L1675.63,433.99 L1678.46,435 L1681.3,435.97 L1684.13,436.91 L1686.96,437.83 L1689.8,438.71 L1692.63,439.56 L1695.46,440.39 L1698.29,441.18 L1701.13,441.95 L1703.96,442.69 L1706.79,443.41 L1709.63,444.1 L1712.46,444.77 L1715.29,445.42 L1718.12,446.04 L1720.96,446.64 L1723.79,447.23 L1726.62,447.79 L1729.46,448.33 L1732.29,448.85 L1735.12,449.35 L1737.95,449.83 L1740.79,450.3 L1743.62,450.75 L1746.45,451.19 L1749.29,451.61 L1752.12,452.01 L1754.95,452.4 L1757.79,452.77 L1760.62,453.14 L1763.45,453.48 L1766.28,453.82 L1769.12,454.14 L1771.95,454.45 L1774.78,454.75 L1777.62,455.04 L1780.45,455.32 L1783.28,455.59 L1786.11,455.85 L1788.95,456.09 L1791.78,456.33" fill="none" stroke="#000" stroke-width="2.6" stroke-linejoin="round" stroke-dasharray="9 6"/>
<path d="M1225.2,119.51 L1228.03,119.53 L1230.87,119.54 L1233.7,119.56 L1236.53,119.58 L1239.36,119.59 L1242.2,119.61 L1245.03,119.63 L1247.86,119.66 L1250.7,119.68 L1253.53,119.7 L1256.36,119.73 L1259.19,119.76 L1262.03,119.79 L1264.86,119.82 L1267.69,119.86 L1270.53,119.89 L1273.36,119.93 L1276.19,119.97 L1279.03,120.02 L1281.86,120.07 L1284.69,120.12 L1287.52,120.17 L1290.36,120.23 L1293.19,120.29 L1296.02,120.35 L1298.86,120.42 L1301.69,120.5 L1304.52,120.58 L1307.35,120.66 L1310.19,120.75 L1313.02,120.85 L1315.85,120.95 L1318.69,121.06 L1321.52,121.18 L1324.35,121.3 L1327.18,121.43 L1330.02,121.58 L1332.85,121.73 L1335.68,121.89 L1338.52,122.06 L1341.35,122.24 L1344.18,122.44 L1347.01,122.64 L1349.85,122.86 L1352.68,123.1 L1355.51,123.35 L1358.35,123.62 L1361.18,123.9 L1364.01,124.2 L1366.85,124.53 L1369.68,124.87 L1372.51,125.23 L1375.34,125.62 L1378.18,126.04 L1381.01,126.48 L1383.84,126.95 L1386.68,127.45 L1389.51,127.98 L1392.34,128.54 L1395.17,129.14 L1398.01,129.78 L1400.84,130.46 L1403.67,131.18 L1406.51,131.94 L1409.34,132.75 L1412.17,133.61 L1415,134.53 L1417.84,135.5 L1420.67,136.53 L1423.5,137.62 L1426.34,138.77 L1429.17,140 L1432,141.29 L1434.83,142.66 L1437.67,144.11 L1440.5,145.64 L1443.33,147.26 L1446.17,148.97 L1449,150.77 L1451.83,152.67 L1454.66,154.67 L1457.5,156.78 L1460.33,158.99 L1463.16,161.32 L1466,163.77 L1468.83,166.33 L1471.66,169.02 L1474.5,171.84 L1477.33,174.79 L1480.16,177.87 L1482.99,181.08 L1485.83,184.43 L1488.66,187.91 L1491.49,191.54 L1494.33,195.3 L1497.16,199.2 L1499.99,203.24 L1502.82,207.41 L1505.66,211.72 L1508.49,216.16 L1511.32,220.73 L1514.16,225.41 L1516.99,230.22 L1519.82,235.14 L1522.65,240.16 L1525.49,245.28 L1528.32,250.49 L1531.15,255.78 L1533.99,261.15 L1536.82,266.57 L1539.65,272.04 L1542.48,277.56 L1545.32,283.1 L1548.15,288.66 L1550.98,294.22 L1553.82,299.78 L1556.65,305.32 L1559.48,310.83 L1562.32,316.3 L1565.15,321.72 L1567.98,327.08 L1570.81,332.36 L1573.65,337.57 L1576.48,342.68 L1579.31,347.7 L1582.15,352.61 L1584.98,357.41 L1587.81,362.09 L1590.64,366.65 L1593.48,371.08 L1596.31,375.38 L1599.14,379.54 L1601.98,383.57 L1604.81,387.46 L1607.64,391.22 L1610.47,394.83 L1613.31,398.31 L1616.14,401.65 L1618.97,404.85 L1621.81,407.92 L1624.64,410.86 L1627.47,413.66 L1630.3,416.35 L1633.14,418.9 L1635.97,421.34 L1638.8,423.66 L1641.64,425.87 L1644.47,427.97 L1647.3,429.97 L1650.14,431.86 L1652.97,433.66 L1655.8,435.36 L1658.63,436.97 L1661.47,438.5 L1664.3,439.94 L1667.13,441.3 L1669.97,442.59 L1672.8,443.81 L1675.63,444.96 L1678.46,446.05 L1681.3,447.07 L1684.13,448.04 L1686.96,448.95 L1689.8,449.81 L1692.63,450.62 L1695.46,451.38 L1698.29,452.1 L1701.13,452.77 L1703.96,453.41 L1706.79,454 L1709.63,454.57 L1712.46,455.09 L1715.29,455.59 L1718.12,456.06 L1720.96,456.5 L1723.79,456.91 L1726.62,457.3 L1729.46,457.66 L1732.29,458 L1735.12,458.32 L1737.95,458.63 L1740.79,458.91 L1743.62,459.17 L1746.45,459.42 L1749.29,459.66 L1752.12,459.88 L1754.95,460.08 L1757.79,460.28 L1760.62,460.46 L1763.45,460.63 L1766.28,460.79 L1769.12,460.94 L1771.95,461.08 L1774.78,461.21 L1777.62,461.34 L1780.45,461.45 L1783.28,461.56 L1786.11,461.66 L1788.95,461.76 L1791.78,461.85" fill="none" stroke="#F8A93E" stroke-width="6.5" stroke-linejoin="round" />
<path d="M1225.2,122.91 L1228.03,122.96 L1230.87,123 L1233.7,123.05 L1236.53,123.1 L1239.36,123.15 L1242.2,123.21 L1245.03,123.27 L1247.86,123.33 L1250.7,123.39 L1253.53,123.46 L1256.36,123.53 L1259.19,123.6 L1262.03,123.68 L1264.86,123.76 L1267.69,123.84 L1270.53,123.93 L1273.36,124.02 L1276.19,124.12 L1279.03,124.22 L1281.86,124.33 L1284.69,124.44 L1287.52,124.55 L1290.36,124.67 L1293.19,124.8 L1296.02,124.93 L1298.86,125.07 L1301.69,125.22 L1304.52,125.37 L1307.35,125.53 L1310.19,125.7 L1313.02,125.87 L1315.85,126.05 L1318.69,126.25 L1321.52,126.45 L1324.35,126.66 L1327.18,126.88 L1330.02,127.11 L1332.85,127.35 L1335.68,127.6 L1338.52,127.86 L1341.35,128.14 L1344.18,128.42 L1347.01,128.72 L1349.85,129.04 L1352.68,129.37 L1355.51,129.71 L1358.35,130.07 L1361.18,130.45 L1364.01,130.84 L1366.85,131.25 L1369.68,131.68 L1372.51,132.13 L1375.34,132.6 L1378.18,133.09 L1381.01,133.6 L1383.84,134.13 L1386.68,134.69 L1389.51,135.27 L1392.34,135.88 L1395.17,136.52 L1398.01,137.18 L1400.84,137.87 L1403.67,138.59 L1406.51,139.34 L1409.34,140.12 L1412.17,140.94 L1415,141.79 L1417.84,142.68 L1420.67,143.6 L1423.5,144.57 L1426.34,145.57 L1429.17,146.61 L1432,147.7 L1434.83,148.83 L1437.67,150 L1440.5,151.22 L1443.33,152.49 L1446.17,153.81 L1449,155.18 L1451.83,156.6 L1454.66,158.08 L1457.5,159.61 L1460.33,161.19 L1463.16,162.84 L1466,164.54 L1468.83,166.31 L1471.66,168.13 L1474.5,170.02 L1477.33,171.97 L1480.16,173.99 L1482.99,176.07 L1485.83,178.22 L1488.66,180.44 L1491.49,182.73 L1494.33,185.09 L1497.16,187.51 L1499.99,190.01 L1502.82,192.58 L1505.66,195.22 L1508.49,197.92 L1511.32,200.7 L1514.16,203.55 L1516.99,206.47 L1519.82,209.45 L1522.65,212.51 L1525.49,215.63 L1528.32,218.81 L1531.15,222.06 L1533.99,225.38 L1536.82,228.75 L1539.65,232.18 L1542.48,235.67 L1545.32,239.21 L1548.15,242.8 L1550.98,246.43 L1553.82,250.12 L1556.65,253.84 L1559.48,257.6 L1562.32,261.4 L1565.15,265.23 L1567.98,269.08 L1570.81,272.96 L1573.65,276.86 L1576.48,280.77 L1579.31,284.69 L1582.15,288.62 L1584.98,292.55 L1587.81,296.48 L1590.64,300.4 L1593.48,304.31 L1596.31,308.2 L1599.14,312.08 L1601.98,315.94 L1604.81,319.76 L1607.64,323.56 L1610.47,327.32 L1613.31,331.05 L1616.14,334.73 L1618.97,338.37 L1621.81,341.96 L1624.64,345.5 L1627.47,348.98 L1630.3,352.42 L1633.14,355.79 L1635.97,359.1 L1638.8,362.35 L1641.64,365.54 L1644.47,368.66 L1647.3,371.71 L1650.14,374.7 L1652.97,377.61 L1655.8,380.46 L1658.63,383.24 L1661.47,385.95 L1664.3,388.59 L1667.13,391.15 L1669.97,393.65 L1672.8,396.08 L1675.63,398.43 L1678.46,400.72 L1681.3,402.94 L1684.13,405.09 L1686.96,407.17 L1689.8,409.19 L1692.63,411.14 L1695.46,413.03 L1698.29,414.86 L1701.13,416.62 L1703.96,418.33 L1706.79,419.97 L1709.63,421.56 L1712.46,423.09 L1715.29,424.56 L1718.12,425.99 L1720.96,427.35 L1723.79,428.67 L1726.62,429.94 L1729.46,431.16 L1732.29,432.34 L1735.12,433.47 L1737.95,434.55 L1740.79,435.6 L1743.62,436.6 L1746.45,437.56 L1749.29,438.48 L1752.12,439.37 L1754.95,440.22 L1757.79,441.04 L1760.62,441.82 L1763.45,442.58 L1766.28,443.3 L1769.12,443.99 L1771.95,444.65 L1774.78,445.28 L1777.62,445.89 L1780.45,446.47 L1783.28,447.03 L1786.11,447.57 L1788.95,448.08 L1791.78,448.57" fill="none" stroke="#000" stroke-width="5.0" stroke-linejoin="round" />
<line x1="1336.96" y1="105.68" x2="1336.96" y2="168.65" stroke="#000" stroke-width="2.4" />
<line x1="1328.31" y1="105.68" x2="1345.61" y2="105.68" stroke="#000" stroke-width="2.4" />
<line x1="1328.31" y1="168.65" x2="1345.61" y2="168.65" stroke="#000" stroke-width="2.4" />
<line x1="1336.96" y1="139.75" x2="1336.96" y2="139.75" stroke="#000" stroke-width="2.4" />
<line x1="1328.31" y1="139.75" x2="1345.61" y2="139.75" stroke="#000" stroke-width="2.4" />
<line x1="1328.31" y1="139.75" x2="1345.61" y2="139.75" stroke="#000" stroke-width="2.4" />
<line x1="1336.96" y1="156.26" x2="1336.96" y2="156.26" stroke="#000" stroke-width="2.4" />
<line x1="1328.31" y1="156.26" x2="1345.61" y2="156.26" stroke="#000" stroke-width="2.4" />
<line x1="1328.31" y1="156.26" x2="1345.61" y2="156.26" stroke="#000" stroke-width="2.4" />
<line x1="1393.81" y1="112.91" x2="1393.81" y2="153.17" stroke="#000" stroke-width="2.4" />
<line x1="1385.16" y1="112.91" x2="1402.46" y2="112.91" stroke="#000" stroke-width="2.4" />
<line x1="1385.16" y1="153.17" x2="1402.46" y2="153.17" stroke="#000" stroke-width="2.4" />
<line x1="1393.81" y1="118.07" x2="1393.81" y2="141.81" stroke="#F8A93E" stroke-width="2.4" />
<line x1="1385.16" y1="118.07" x2="1402.46" y2="118.07" stroke="#F8A93E" stroke-width="2.4" />
<line x1="1385.16" y1="141.81" x2="1402.46" y2="141.81" stroke="#F8A93E" stroke-width="2.4" />
<line x1="1450.66" y1="132.86" x2="1450.66" y2="161.77" stroke="#000" stroke-width="2.4" />
<line x1="1442.01" y1="132.86" x2="1459.31" y2="132.86" stroke="#000" stroke-width="2.4" />
<line x1="1442.01" y1="161.77" x2="1459.31" y2="161.77" stroke="#000" stroke-width="2.4" />
<line x1="1450.66" y1="127.7" x2="1450.66" y2="168.99" stroke="#F8A93E" stroke-width="2.4" />
<line x1="1442.01" y1="127.7" x2="1459.31" y2="127.7" stroke="#F8A93E" stroke-width="2.4" />
<line x1="1442.01" y1="168.99" x2="1459.31" y2="168.99" stroke="#F8A93E" stroke-width="2.4" />
<line x1="1450.66" y1="205.12" x2="1450.66" y2="234.37" stroke="#000" stroke-width="2.4" />
<line x1="1442.01" y1="205.12" x2="1459.31" y2="205.12" stroke="#000" stroke-width="2.4" />
<line x1="1442.01" y1="234.37" x2="1459.31" y2="234.37" stroke="#000" stroke-width="2.4" />
<line x1="1564.37" y1="258.46" x2="1564.37" y2="283.24" stroke="#000" stroke-width="2.4" />
<line x1="1555.72" y1="258.46" x2="1573.02" y2="258.46" stroke="#000" stroke-width="2.4" />
<line x1="1555.72" y1="283.24" x2="1573.02" y2="283.24" stroke="#000" stroke-width="2.4" />
<circle cx="1336.96" cy="136.31" r="7.9" fill="#F8A93E" stroke="#000" stroke-width="1.8"/>
<circle cx="1393.81" cy="129.08" r="7.9" fill="#F8A93E" stroke="#000" stroke-width="1.8"/>
<circle cx="1450.66" cy="145.94" r="7.9" fill="#F8A93E" stroke="#000" stroke-width="1.8"/>
<circle cx="1507.52" cy="216.48" r="7.9" fill="#F8A93E" stroke="#000" stroke-width="1.8"/>
<circle cx="1564.37" cy="334.51" r="7.9" fill="#F8A93E" stroke="#000" stroke-width="1.8"/>
<circle cx="1621.22" cy="409.18" r="7.9" fill="#F8A93E" stroke="#000" stroke-width="1.8"/>
<circle cx="1678.07" cy="433.95" r="7.9" fill="#F8A93E" stroke="#000" stroke-width="1.8"/>
<circle cx="1734.93" cy="440.49" r="7.9" fill="#F8A93E" stroke="#000" stroke-width="1.8"/>
<circle cx="1791.78" cy="441.87" r="7.9" fill="#F8A93E" stroke="#000" stroke-width="1.8"/>
<line x1="1336.96" y1="136.31" x2="1336.96" y2="136.31" stroke="#F8A93E" stroke-width="2.4" />
<line x1="1328.31" y1="136.31" x2="1345.61" y2="136.31" stroke="#F8A93E" stroke-width="2.4" />
<line x1="1328.31" y1="136.31" x2="1345.61" y2="136.31" stroke="#F8A93E" stroke-width="2.4" />
<circle cx="1336.96" cy="147.66" r="8.6" fill="#000"/>
<circle cx="1393.81" cy="153.17" r="8.6" fill="#000"/>
<circle cx="1450.66" cy="147.66" r="8.6" fill="#000"/>
<circle cx="1507.52" cy="178.63" r="8.6" fill="#000"/>
<circle cx="1564.37" cy="271.88" r="8.6" fill="#000"/>
<circle cx="1621.22" cy="361.35" r="8.6" fill="#000"/>
<circle cx="1678.07" cy="402.64" r="8.6" fill="#000"/>
<circle cx="1734.93" cy="416.06" r="8.6" fill="#000"/>
<circle cx="1791.78" cy="421.91" r="8.6" fill="#000"/>
<circle cx="1336.96" cy="143.19" r="5.2" fill="#000"/>
<circle cx="1393.81" cy="165.21" r="5.2" fill="#000"/>
<circle cx="1450.66" cy="218.89" r="5.2" fill="#000"/>
<circle cx="1507.52" cy="326.59" r="5.2" fill="#000"/>
<circle cx="1564.37" cy="375.45" r="5.2" fill="#000"/>
<circle cx="1621.22" cy="402.64" r="5.2" fill="#000"/>
<circle cx="1678.07" cy="419.16" r="5.2" fill="#000"/>
<circle cx="1734.93" cy="427.76" r="5.2" fill="#000"/>
<circle cx="1791.78" cy="424.66" r="5.2" fill="#000"/>
<circle cx="1336.96" cy="119.1" r="5.6" fill="#F8A93E" stroke="#000" stroke-width="1.6"/>
<circle cx="1393.81" cy="132" r="5.6" fill="#F8A93E" stroke="#000" stroke-width="1.6"/>
<circle cx="1450.66" cy="257.43" r="5.6" fill="#F8A93E" stroke="#000" stroke-width="1.6"/>
<circle cx="1507.52" cy="403.33" r="5.6" fill="#F8A93E" stroke="#000" stroke-width="1.6"/>
<circle cx="1564.37" cy="430.85" r="5.6" fill="#F8A93E" stroke="#000" stroke-width="1.6"/>
<circle cx="1621.22" cy="439.46" r="5.6" fill="#F8A93E" stroke="#000" stroke-width="1.6"/>
<circle cx="1678.07" cy="443.24" r="5.6" fill="#F8A93E" stroke="#000" stroke-width="1.6"/>
<circle cx="1734.93" cy="447.03" r="5.6" fill="#F8A93E" stroke="#000" stroke-width="1.6"/>
<circle cx="1791.78" cy="449.09" r="5.6" fill="#F8A93E" stroke="#000" stroke-width="1.6"/>
<line x1="1603.2" y1="130.9" x2="1614.5" y2="130.9" stroke="#000" stroke-width="2.6" stroke-linecap="round"/>
<line x1="1635.3" y1="130.9" x2="1642.8" y2="130.9" stroke="#000" stroke-width="2.6" stroke-linecap="round"/>
<circle cx="1624.9" cy="130.9" r="6.1" fill="#000"/>
<text x="1668.97" y="141.8" font-size="30.8" text-anchor="start" fill="#000" >sgCONTROL</text>
<line x1="1603.2" y1="167" x2="1614.5" y2="167" stroke="#F8A93E" stroke-width="2.6" stroke-linecap="round"/>
<line x1="1635.3" y1="167" x2="1642.8" y2="167" stroke="#F8A93E" stroke-width="2.6" stroke-linecap="round"/>
<circle cx="1624.9" cy="167" r="5.6" fill="#F8A93E" stroke="#000" stroke-width="1.6"/>
<text x="1668.97" y="177.9" font-size="30.8" text-anchor="start" fill="#000" >sgTOPORS-1</text>
<line x1="1604.6" y1="204.5" x2="1645.5" y2="204.5" stroke="#000" stroke-width="5.0" stroke-linecap="round"/>
<circle cx="1624.9" cy="204.5" r="8.6" fill="#000"/>
<text x="1668.97" y="215.4" font-size="30.8" text-anchor="start" fill="#000" >sgCONTROL+ DNMTi</text>
<line x1="1604.6" y1="240.1" x2="1645.5" y2="240.1" stroke="#F8A93E" stroke-width="6.0" stroke-linecap="round"/>
<circle cx="1624.9" cy="240.1" r="7.6" fill="#F8A93E" stroke="#000" stroke-width="1.8"/>
<text x="1668.97" y="251" font-size="30.8" text-anchor="start" fill="#000" >sgTOPORS-1 + DNMTi</text>
<line x1="114.6" y1="687" x2="114.6" y2="1072.4" stroke="#000" stroke-width="2.4" />
<line x1="103.3" y1="1066.3" x2="683.7" y2="1066.3" stroke="#000" stroke-width="2.4" />
<line x1="103.3" y1="1063.3" x2="114.6" y2="1063.3" stroke="#000" stroke-width="2.4" />
<line x1="108.1" y1="1029.12" x2="114.6" y2="1029.12" stroke="#000" stroke-width="2.4" />
<line x1="108.1" y1="994.94" x2="114.6" y2="994.94" stroke="#000" stroke-width="2.4" />
<line x1="108.1" y1="960.76" x2="114.6" y2="960.76" stroke="#000" stroke-width="2.4" />
<line x1="108.1" y1="926.58" x2="114.6" y2="926.58" stroke="#000" stroke-width="2.4" />
<line x1="103.3" y1="892.4" x2="114.6" y2="892.4" stroke="#000" stroke-width="2.4" />
<line x1="108.1" y1="858.22" x2="114.6" y2="858.22" stroke="#000" stroke-width="2.4" />
<line x1="108.1" y1="824.04" x2="114.6" y2="824.04" stroke="#000" stroke-width="2.4" />
<line x1="108.1" y1="789.86" x2="114.6" y2="789.86" stroke="#000" stroke-width="2.4" />
<line x1="108.1" y1="755.68" x2="114.6" y2="755.68" stroke="#000" stroke-width="2.4" />
<line x1="103.3" y1="721.5" x2="114.6" y2="721.5" stroke="#000" stroke-width="2.4" />
<line x1="108.1" y1="687.32" x2="114.6" y2="687.32" stroke="#000" stroke-width="2.4" />
<line x1="114.58" y1="1066.3" x2="114.58" y2="1072.4" stroke="#000" stroke-width="2.4" />
<line x1="136.4" y1="1066.3" x2="136.4" y2="1077.4" stroke="#000" stroke-width="2.4" />
<line x1="158.22" y1="1066.3" x2="158.22" y2="1072.4" stroke="#000" stroke-width="2.4" />
<line x1="180.04" y1="1066.3" x2="180.04" y2="1072.4" stroke="#000" stroke-width="2.4" />
<line x1="201.86" y1="1066.3" x2="201.86" y2="1072.4" stroke="#000" stroke-width="2.4" />
<line x1="223.68" y1="1066.3" x2="223.68" y2="1072.4" stroke="#000" stroke-width="2.4" />
<line x1="245.5" y1="1066.3" x2="245.5" y2="1077.4" stroke="#000" stroke-width="2.4" />
<line x1="267.32" y1="1066.3" x2="267.32" y2="1072.4" stroke="#000" stroke-width="2.4" />
<line x1="289.14" y1="1066.3" x2="289.14" y2="1072.4" stroke="#000" stroke-width="2.4" />
<line x1="310.96" y1="1066.3" x2="310.96" y2="1072.4" stroke="#000" stroke-width="2.4" />
<line x1="332.78" y1="1066.3" x2="332.78" y2="1072.4" stroke="#000" stroke-width="2.4" />
<line x1="354.6" y1="1066.3" x2="354.6" y2="1077.4" stroke="#000" stroke-width="2.4" />
<line x1="376.42" y1="1066.3" x2="376.42" y2="1072.4" stroke="#000" stroke-width="2.4" />
<line x1="398.24" y1="1066.3" x2="398.24" y2="1072.4" stroke="#000" stroke-width="2.4" />
<line x1="420.06" y1="1066.3" x2="420.06" y2="1072.4" stroke="#000" stroke-width="2.4" />
<line x1="441.88" y1="1066.3" x2="441.88" y2="1072.4" stroke="#000" stroke-width="2.4" />
<line x1="463.7" y1="1066.3" x2="463.7" y2="1077.4" stroke="#000" stroke-width="2.4" />
<line x1="485.52" y1="1066.3" x2="485.52" y2="1072.4" stroke="#000" stroke-width="2.4" />
<line x1="507.34" y1="1066.3" x2="507.34" y2="1072.4" stroke="#000" stroke-width="2.4" />
<line x1="529.16" y1="1066.3" x2="529.16" y2="1072.4" stroke="#000" stroke-width="2.4" />
<line x1="550.98" y1="1066.3" x2="550.98" y2="1072.4" stroke="#000" stroke-width="2.4" />
<line x1="572.8" y1="1066.3" x2="572.8" y2="1077.4" stroke="#000" stroke-width="2.4" />
<line x1="594.62" y1="1066.3" x2="594.62" y2="1072.4" stroke="#000" stroke-width="2.4" />
<line x1="616.44" y1="1066.3" x2="616.44" y2="1072.4" stroke="#000" stroke-width="2.4" />
<line x1="638.26" y1="1066.3" x2="638.26" y2="1072.4" stroke="#000" stroke-width="2.4" />
<line x1="660.08" y1="1066.3" x2="660.08" y2="1072.4" stroke="#000" stroke-width="2.4" />
<line x1="681.9" y1="1066.3" x2="681.9" y2="1077.4" stroke="#000" stroke-width="2.4" />
<text x="98.5" y="1073.5" font-size="28.5" text-anchor="end" fill="#000" >0</text>
<text x="98.5" y="902.6" font-size="28.5" text-anchor="end" fill="#000" >50</text>
<text x="98.5" y="731.7" font-size="28.5" text-anchor="end" fill="#000" >100</text>
<text x="136.4" y="1107.5" font-size="28.5" text-anchor="middle" fill="#000" >-4</text>
<text x="245.5" y="1107.5" font-size="28.5" text-anchor="middle" fill="#000" >-3</text>
<text x="354.6" y="1107.5" font-size="28.5" text-anchor="middle" fill="#000" >-2</text>
<text x="463.7" y="1107.5" font-size="28.5" text-anchor="middle" fill="#000" >-1</text>
<text x="572.8" y="1107.5" font-size="28.5" text-anchor="middle" fill="#000" >0</text>
<text x="681.9" y="1107.5" font-size="28.5" text-anchor="middle" fill="#000" >1</text>
<text x="174.3" y="690.9" font-size="36.4" text-anchor="start" fill="#000" >Topo-I adducts</text>
<text transform="translate(47,875.5) rotate(-90)" x="0" y="0" font-size="30.8" text-anchor="middle" >relative absorbance 490nm</text>
<text x="258.8" y="1146.8" font-size="30.8">log<tspan font-size="17.4" dy="10.4">10</tspan><tspan dy="-10.4"> [Topotecan] (µM)</tspan></text>
<line x1="114.6" y1="892.4" x2="682" y2="892.4" stroke="#000" stroke-width="3.3" stroke-linecap="round" stroke-dasharray="0 5.65"/>
<path d="M114.58,730.43 L117.14,730.43 L119.71,730.43 L122.27,730.44 L124.84,730.44 L127.4,730.45 L129.96,730.46 L132.53,730.46 L135.09,730.47 L137.65,730.48 L140.22,730.49 L142.78,730.5 L145.35,730.51 L147.91,730.52 L150.47,730.54 L153.04,730.55 L155.6,730.57 L158.17,730.59 L160.73,730.61 L163.29,730.63 L165.86,730.65 L168.42,730.68 L170.98,730.71 L173.55,730.74 L176.11,730.77 L178.68,730.81 L181.24,730.85 L183.8,730.9 L186.37,730.95 L188.93,731 L191.5,731.07 L194.06,731.13 L196.62,731.21 L199.19,731.29 L201.75,731.38 L204.31,731.48 L206.88,731.58 L209.44,731.7 L212.01,731.83 L214.57,731.97 L217.13,732.13 L219.7,732.3 L222.26,732.49 L224.83,732.7 L227.39,732.93 L229.95,733.18 L232.52,733.45 L235.08,733.75 L237.64,734.08 L240.21,734.45 L242.77,734.84 L245.34,735.28 L247.9,735.76 L250.46,736.28 L253.03,736.85 L255.59,737.48 L258.16,738.17 L260.72,738.92 L263.28,739.74 L265.85,740.64 L268.41,741.62 L270.97,742.69 L273.54,743.86 L276.1,745.14 L278.67,746.53 L281.23,748.04 L283.79,749.68 L286.36,751.47 L288.92,753.41 L291.49,755.51 L294.05,757.79 L296.61,760.25 L299.18,762.9 L301.74,765.77 L304.3,768.85 L306.87,772.15 L309.43,775.7 L312,779.49 L314.56,783.53 L317.12,787.83 L319.69,792.4 L322.25,797.24 L324.82,802.34 L327.38,807.71 L329.94,813.34 L332.51,819.23 L335.07,825.36 L337.63,831.72 L340.2,838.29 L342.76,845.06 L345.33,851.99 L347.89,859.07 L350.45,866.27 L353.02,873.56 L355.58,880.89 L358.15,888.26 L360.71,895.61 L363.27,902.91 L365.84,910.15 L368.4,917.27 L370.96,924.26 L373.53,931.1 L376.09,937.74 L378.66,944.18 L381.22,950.39 L383.78,956.37 L386.35,962.09 L388.91,967.56 L391.48,972.76 L394.04,977.69 L396.6,982.36 L399.17,986.76 L401.73,990.89 L404.3,994.77 L406.86,998.41 L409.42,1001.8 L411.99,1004.96 L414.55,1007.9 L417.11,1010.63 L419.68,1013.16 L422.24,1015.5 L424.81,1017.66 L427.37,1019.66 L429.93,1021.5 L432.5,1023.19 L435.06,1024.75 L437.63,1026.18 L440.19,1027.5 L442.75,1028.71 L445.32,1029.81 L447.88,1030.83 L450.44,1031.75 L453.01,1032.6 L455.57,1033.38 L458.14,1034.09 L460.7,1034.74 L463.26,1035.33 L465.83,1035.87 L468.39,1036.36 L470.96,1036.81 L473.52,1037.23 L476.08,1037.6 L478.65,1037.94 L481.21,1038.25 L483.77,1038.54 L486.34,1038.8 L488.9,1039.03 L491.47,1039.25 L494.03,1039.44 L496.59,1039.62 L499.16,1039.78 L501.72,1039.93 L504.29,1040.06 L506.85,1040.19 L509.41,1040.3 L511.98,1040.4 L514.54,1040.49 L517.1,1040.58 L519.67,1040.65 L522.23,1040.72 L524.8,1040.79 L527.36,1040.84 L529.92,1040.9 L532.49,1040.94 L535.05,1040.99 L537.62,1041.03 L540.18,1041.06 L542.74,1041.1 L545.31,1041.12 L547.87,1041.15 L550.43,1041.18 L553,1041.2 L555.56,1041.22 L558.13,1041.24 L560.69,1041.25 L563.25,1041.27 L565.82,1041.28 L568.38,1041.3 L570.95,1041.31 L573.51,1041.32 L576.07,1041.33 L578.64,1041.34 L581.2,1041.35 L583.76,1041.35 L586.33,1041.36 L588.89,1041.36 L591.46,1041.37 L594.02,1041.38 L596.58,1041.38 L599.15,1041.38 L601.71,1041.39 L604.28,1041.39 L606.84,1041.39 L609.4,1041.4 L611.97,1041.4 L614.53,1041.4 L617.09,1041.4 L619.66,1041.41 L622.22,1041.41 L624.79,1041.41 L627.35,1041.41" fill="none" stroke="#F8A93E" stroke-width="6.0" stroke-linejoin="round" stroke-linecap="round"/>
<path d="M114.58,726.65 L117.14,726.66 L119.71,726.66 L122.27,726.66 L124.84,726.67 L127.4,726.67 L129.96,726.68 L132.53,726.68 L135.09,726.69 L137.65,726.69 L140.22,726.7 L142.78,726.71 L145.35,726.71 L147.91,726.72 L150.47,726.73 L153.04,726.74 L155.6,726.76 L158.17,726.77 L160.73,726.78 L163.29,726.8 L165.86,726.82 L168.42,726.84 L170.98,726.86 L173.55,726.88 L176.11,726.91 L178.68,726.94 L181.24,726.97 L183.8,727 L186.37,727.04 L188.93,727.08 L191.5,727.13 L194.06,727.18 L196.62,727.24 L199.19,727.3 L201.75,727.37 L204.31,727.45 L206.88,727.53 L209.44,727.62 L212.01,727.72 L214.57,727.83 L217.13,727.96 L219.7,728.09 L222.26,728.24 L224.83,728.41 L227.39,728.59 L229.95,728.79 L232.52,729 L235.08,729.25 L237.64,729.51 L240.21,729.8 L242.77,730.13 L245.34,730.48 L247.9,730.87 L250.46,731.3 L253.03,731.77 L255.59,732.28 L258.16,732.85 L260.72,733.47 L263.28,734.16 L265.85,734.91 L268.41,735.73 L270.97,736.63 L273.54,737.62 L276.1,738.7 L278.67,739.89 L281.23,741.19 L283.79,742.6 L286.36,744.15 L288.92,745.83 L291.49,747.67 L294.05,749.67 L296.61,751.84 L299.18,754.2 L301.74,756.76 L304.3,759.53 L306.87,762.53 L309.43,765.76 L312,769.23 L314.56,772.97 L317.12,776.97 L319.69,781.25 L322.25,785.82 L324.82,790.68 L327.38,795.83 L329.94,801.28 L332.51,807.02 L335.07,813.05 L337.63,819.36 L340.2,825.94 L342.76,832.78 L345.33,839.84 L347.89,847.12 L350.45,854.57 L353.02,862.19 L355.58,869.92 L358.15,877.74 L360.71,885.62 L363.27,893.51 L365.84,901.37 L368.4,909.18 L370.96,916.89 L373.53,924.47 L376.09,931.89 L378.66,939.11 L381.22,946.13 L383.78,952.9 L386.35,959.42 L388.91,965.66 L391.48,971.63 L394.04,977.3 L396.6,982.68 L399.17,987.77 L401.73,992.56 L404.3,997.06 L406.86,1001.27 L409.42,1005.21 L411.99,1008.89 L414.55,1012.3 L417.11,1015.48 L419.68,1018.42 L422.24,1021.13 L424.81,1023.65 L427.37,1025.96 L429.93,1028.09 L432.5,1030.05 L435.06,1031.85 L437.63,1033.51 L440.19,1035.02 L442.75,1036.41 L445.32,1037.68 L447.88,1038.84 L450.44,1039.9 L453.01,1040.87 L455.57,1041.75 L458.14,1042.56 L460.7,1043.29 L463.26,1043.96 L465.83,1044.57 L468.39,1045.12 L470.96,1045.63 L473.52,1046.09 L476.08,1046.51 L478.65,1046.89 L481.21,1047.23 L483.77,1047.55 L486.34,1047.83 L488.9,1048.09 L491.47,1048.33 L494.03,1048.54 L496.59,1048.74 L499.16,1048.91 L501.72,1049.08 L504.29,1049.22 L506.85,1049.35 L509.41,1049.47 L511.98,1049.58 L514.54,1049.68 L517.1,1049.77 L519.67,1049.85 L522.23,1049.93 L524.8,1049.99 L527.36,1050.06 L529.92,1050.11 L532.49,1050.16 L535.05,1050.21 L537.62,1050.25 L540.18,1050.29 L542.74,1050.32 L545.31,1050.35 L547.87,1050.38 L550.43,1050.4 L553,1050.43 L555.56,1050.45 L558.13,1050.47 L560.69,1050.48 L563.25,1050.5 L565.82,1050.51 L568.38,1050.53 L570.95,1050.54 L573.51,1050.55 L576.07,1050.56 L578.64,1050.57 L581.2,1050.58 L583.76,1050.58 L586.33,1050.59 L588.89,1050.6 L591.46,1050.6 L594.02,1050.61 L596.58,1050.61 L599.15,1050.61 L601.71,1050.62 L604.28,1050.62 L606.84,1050.62 L609.4,1050.63 L611.97,1050.63 L614.53,1050.63 L617.09,1050.63 L619.66,1050.64 L622.22,1050.64 L624.79,1050.64 L627.35,1050.64" fill="none" stroke="#000" stroke-width="2.6" stroke-linejoin="round" />
<line x1="156.47" y1="711.3" x2="156.47" y2="730" stroke="#000" stroke-width="2.4" />
<line x1="147.82" y1="711.3" x2="165.12" y2="711.3" stroke="#000" stroke-width="2.4" />
<line x1="147.82" y1="730" x2="165.12" y2="730" stroke="#000" stroke-width="2.4" />
<line x1="260.56" y1="725.5" x2="260.56" y2="759.3" stroke="#000" stroke-width="2.4" />
<line x1="251.91" y1="725.5" x2="269.21" y2="725.5" stroke="#000" stroke-width="2.4" />
<line x1="251.91" y1="759.3" x2="269.21" y2="759.3" stroke="#000" stroke-width="2.4" />
<line x1="312.6" y1="749.7" x2="312.6" y2="779.1" stroke="#000" stroke-width="2.4" />
<line x1="303.95" y1="749.7" x2="321.25" y2="749.7" stroke="#000" stroke-width="2.4" />
<line x1="303.95" y1="779.1" x2="321.25" y2="779.1" stroke="#000" stroke-width="2.4" />
<line x1="416.68" y1="997.8" x2="416.68" y2="1020.3" stroke="#000" stroke-width="2.4" />
<line x1="408.03" y1="997.8" x2="425.33" y2="997.8" stroke="#000" stroke-width="2.4" />
<line x1="408.03" y1="1020.3" x2="425.33" y2="1020.3" stroke="#000" stroke-width="2.4" />
<circle cx="156.47" cy="721.8" r="7.2" fill="#F8A93E" stroke="#000" stroke-width="1.7"/>
<circle cx="208.52" cy="744.5" r="7.2" fill="#F8A93E" stroke="#000" stroke-width="1.7"/>
<circle cx="260.56" cy="742.6" r="7.2" fill="#F8A93E" stroke="#000" stroke-width="1.7"/>
<circle cx="312.6" cy="763.5" r="7.2" fill="#F8A93E" stroke="#000" stroke-width="1.7"/>
<circle cx="364.64" cy="919.9" r="7.2" fill="#F8A93E" stroke="#000" stroke-width="1.7"/>
<circle cx="416.68" cy="1008.8" r="7.2" fill="#F8A93E" stroke="#000" stroke-width="1.7"/>
<circle cx="468.72" cy="1024.2" r="7.2" fill="#F8A93E" stroke="#000" stroke-width="1.7"/>
<circle cx="520.76" cy="1040.5" r="7.2" fill="#F8A93E" stroke="#000" stroke-width="1.7"/>
<circle cx="572.8" cy="1047.5" r="7.2" fill="#F8A93E" stroke="#000" stroke-width="1.7"/>
<circle cx="624.84" cy="1052.4" r="7.2" fill="#F8A93E" stroke="#000" stroke-width="1.7"/>
<circle cx="156.47" cy="730.9" r="7.2" fill="#000"/>
<circle cx="208.52" cy="726.1" r="7.2" fill="#000"/>
<circle cx="260.56" cy="735" r="7.2" fill="#000"/>
<circle cx="312.6" cy="765.4" r="7.2" fill="#000"/>
<circle cx="364.64" cy="899.2" r="7.2" fill="#000"/>
<circle cx="416.68" cy="1013.7" r="7.2" fill="#000"/>
<circle cx="468.72" cy="1032.2" r="7.2" fill="#000"/>
<circle cx="520.76" cy="1044.9" r="7.2" fill="#000"/>
<circle cx="572.8" cy="1052.4" r="7.2" fill="#000"/>
<circle cx="624.84" cy="1063.3" r="7.2" fill="#000"/>
<line x1="738.5" y1="687.5" x2="738.5" y2="1072.4" stroke="#000" stroke-width="2.4" />
<line x1="727" y1="1066.3" x2="1307.2" y2="1066.3" stroke="#000" stroke-width="2.4" />
<line x1="727" y1="1063.3" x2="738.5" y2="1063.3" stroke="#000" stroke-width="2.4" />
<line x1="732" y1="1029.24" x2="738.5" y2="1029.24" stroke="#000" stroke-width="2.4" />
<line x1="732" y1="995.18" x2="738.5" y2="995.18" stroke="#000" stroke-width="2.4" />
<line x1="732" y1="961.12" x2="738.5" y2="961.12" stroke="#000" stroke-width="2.4" />
<line x1="732" y1="927.06" x2="738.5" y2="927.06" stroke="#000" stroke-width="2.4" />
<line x1="727" y1="893" x2="738.5" y2="893" stroke="#000" stroke-width="2.4" />
<line x1="732" y1="858.94" x2="738.5" y2="858.94" stroke="#000" stroke-width="2.4" />
<line x1="732" y1="824.88" x2="738.5" y2="824.88" stroke="#000" stroke-width="2.4" />
<line x1="732" y1="790.82" x2="738.5" y2="790.82" stroke="#000" stroke-width="2.4" />
<line x1="732" y1="756.76" x2="738.5" y2="756.76" stroke="#000" stroke-width="2.4" />
<line x1="727" y1="722.7" x2="738.5" y2="722.7" stroke="#000" stroke-width="2.4" />
<line x1="732" y1="688.64" x2="738.5" y2="688.64" stroke="#000" stroke-width="2.4" />
<line x1="738.33" y1="1066.3" x2="738.33" y2="1072.4" stroke="#000" stroke-width="2.4" />
<line x1="760.16" y1="1066.3" x2="760.16" y2="1077.4" stroke="#000" stroke-width="2.4" />
<line x1="781.99" y1="1066.3" x2="781.99" y2="1072.4" stroke="#000" stroke-width="2.4" />
<line x1="803.82" y1="1066.3" x2="803.82" y2="1072.4" stroke="#000" stroke-width="2.4" />
<line x1="825.66" y1="1066.3" x2="825.66" y2="1072.4" stroke="#000" stroke-width="2.4" />
<line x1="847.49" y1="1066.3" x2="847.49" y2="1072.4" stroke="#000" stroke-width="2.4" />
<line x1="869.32" y1="1066.3" x2="869.32" y2="1077.4" stroke="#000" stroke-width="2.4" />
<line x1="891.15" y1="1066.3" x2="891.15" y2="1072.4" stroke="#000" stroke-width="2.4" />
<line x1="912.98" y1="1066.3" x2="912.98" y2="1072.4" stroke="#000" stroke-width="2.4" />
<line x1="934.82" y1="1066.3" x2="934.82" y2="1072.4" stroke="#000" stroke-width="2.4" />
<line x1="956.65" y1="1066.3" x2="956.65" y2="1072.4" stroke="#000" stroke-width="2.4" />
<line x1="978.48" y1="1066.3" x2="978.48" y2="1077.4" stroke="#000" stroke-width="2.4" />
<line x1="1000.31" y1="1066.3" x2="1000.31" y2="1072.4" stroke="#000" stroke-width="2.4" />
<line x1="1022.14" y1="1066.3" x2="1022.14" y2="1072.4" stroke="#000" stroke-width="2.4" />
<line x1="1043.98" y1="1066.3" x2="1043.98" y2="1072.4" stroke="#000" stroke-width="2.4" />
<line x1="1065.81" y1="1066.3" x2="1065.81" y2="1072.4" stroke="#000" stroke-width="2.4" />
<line x1="1087.64" y1="1066.3" x2="1087.64" y2="1077.4" stroke="#000" stroke-width="2.4" />
<line x1="1109.47" y1="1066.3" x2="1109.47" y2="1072.4" stroke="#000" stroke-width="2.4" />
<line x1="1131.3" y1="1066.3" x2="1131.3" y2="1072.4" stroke="#000" stroke-width="2.4" />
<line x1="1153.14" y1="1066.3" x2="1153.14" y2="1072.4" stroke="#000" stroke-width="2.4" />
<line x1="1174.97" y1="1066.3" x2="1174.97" y2="1072.4" stroke="#000" stroke-width="2.4" />
<line x1="1196.8" y1="1066.3" x2="1196.8" y2="1077.4" stroke="#000" stroke-width="2.4" />
<line x1="1218.63" y1="1066.3" x2="1218.63" y2="1072.4" stroke="#000" stroke-width="2.4" />
<line x1="1240.46" y1="1066.3" x2="1240.46" y2="1072.4" stroke="#000" stroke-width="2.4" />
<line x1="1262.3" y1="1066.3" x2="1262.3" y2="1072.4" stroke="#000" stroke-width="2.4" />
<line x1="1284.13" y1="1066.3" x2="1284.13" y2="1072.4" stroke="#000" stroke-width="2.4" />
<line x1="1305.96" y1="1066.3" x2="1305.96" y2="1077.4" stroke="#000" stroke-width="2.4" />
<text x="723.9" y="1073.5" font-size="28.5" text-anchor="end" fill="#000" >0</text>
<text x="723.9" y="903.2" font-size="28.5" text-anchor="end" fill="#000" >50</text>
<text x="723.9" y="732.9" font-size="28.5" text-anchor="end" fill="#000" >100</text>
<text x="760.16" y="1107.4" font-size="28.5" text-anchor="middle" fill="#000" >-4</text>
<text x="869.32" y="1107.4" font-size="28.5" text-anchor="middle" fill="#000" >-3</text>
<text x="978.48" y="1107.4" font-size="28.5" text-anchor="middle" fill="#000" >-2</text>
<text x="1087.64" y="1107.4" font-size="28.5" text-anchor="middle" fill="#000" >-1</text>
<text x="1196.8" y="1107.4" font-size="28.5" text-anchor="middle" fill="#000" >0</text>
<text x="1305.96" y="1107.4" font-size="28.5" text-anchor="middle" fill="#000" >1</text>
<text x="799.2" y="689" font-size="36.4" text-anchor="start" fill="#000" >Topo-II adducts</text>
<text x="873.8" y="1146.8" font-size="30.8">log<tspan font-size="22" dy="10.2">10</tspan><tspan dy="-10.2"> [Etoposide] (µM)</tspan></text>
<line x1="738.5" y1="893" x2="1306" y2="893" stroke="#000" stroke-width="3.3" stroke-linecap="round" stroke-dasharray="0 5.65"/>
<path d="M738.33,731.22 L741.17,731.22 L744,731.22 L746.84,731.22 L749.68,731.23 L752.52,731.23 L755.36,731.23 L758.2,731.23 L761.03,731.23 L763.87,731.23 L766.71,731.23 L769.55,731.23 L772.39,731.23 L775.22,731.23 L778.06,731.24 L780.9,731.24 L783.74,731.24 L786.58,731.24 L789.41,731.24 L792.25,731.24 L795.09,731.25 L797.93,731.25 L800.77,731.25 L803.61,731.25 L806.44,731.26 L809.28,731.26 L812.12,731.26 L814.96,731.27 L817.8,731.27 L820.63,731.27 L823.47,731.28 L826.31,731.28 L829.15,731.29 L831.99,731.29 L834.83,731.3 L837.66,731.3 L840.5,731.31 L843.34,731.32 L846.18,731.32 L849.02,731.33 L851.85,731.34 L854.69,731.35 L857.53,731.36 L860.37,731.37 L863.21,731.38 L866.05,731.39 L868.88,731.41 L871.72,731.42 L874.56,731.43 L877.4,731.45 L880.24,731.47 L883.07,731.48 L885.91,731.5 L888.75,731.52 L891.59,731.54 L894.43,731.57 L897.26,731.59 L900.1,731.62 L902.94,731.65 L905.78,731.68 L908.62,731.71 L911.46,731.75 L914.29,731.79 L917.13,731.83 L919.97,731.87 L922.81,731.92 L925.65,731.97 L928.48,732.02 L931.32,732.08 L934.16,732.14 L937,732.21 L939.84,732.28 L942.68,732.35 L945.51,732.43 L948.35,732.52 L951.19,732.61 L954.03,732.71 L956.87,732.82 L959.7,732.93 L962.54,733.05 L965.38,733.18 L968.22,733.32 L971.06,733.47 L973.9,733.63 L976.73,733.8 L979.57,733.98 L982.41,734.18 L985.25,734.39 L988.09,734.61 L990.92,734.85 L993.76,735.1 L996.6,735.38 L999.44,735.67 L1002.28,735.98 L1005.12,736.32 L1007.95,736.68 L1010.79,737.06 L1013.63,737.47 L1016.47,737.9 L1019.31,738.37 L1022.14,738.87 L1024.98,739.4 L1027.82,739.97 L1030.66,740.58 L1033.5,741.22 L1036.33,741.91 L1039.17,742.65 L1042.01,743.43 L1044.85,744.27 L1047.69,745.16 L1050.53,746.11 L1053.36,747.12 L1056.2,748.2 L1059.04,749.34 L1061.88,750.56 L1064.72,751.85 L1067.55,753.22 L1070.39,754.68 L1073.23,756.23 L1076.07,757.87 L1078.91,759.61 L1081.75,761.45 L1084.58,763.39 L1087.42,765.45 L1090.26,767.62 L1093.1,769.91 L1095.94,772.33 L1098.77,774.87 L1101.61,777.55 L1104.45,780.37 L1107.29,783.32 L1110.13,786.42 L1112.97,789.66 L1115.8,793.05 L1118.64,796.59 L1121.48,800.28 L1124.32,804.12 L1127.16,808.11 L1129.99,812.26 L1132.83,816.55 L1135.67,820.98 L1138.51,825.57 L1141.35,830.28 L1144.18,835.13 L1147.02,840.11 L1149.86,845.21 L1152.7,850.42 L1155.54,855.73 L1158.38,861.13 L1161.21,866.62 L1164.05,872.17 L1166.89,877.78 L1169.73,883.44 L1172.57,889.13 L1175.4,894.84 L1178.24,900.55 L1181.08,906.26 L1183.92,911.95 L1186.76,917.6 L1189.6,923.2 L1192.43,928.75 L1195.27,934.22 L1198.11,939.61 L1200.95,944.9 L1203.79,950.1 L1206.62,955.18 L1209.46,960.13 L1212.3,964.97 L1215.14,969.66 L1217.98,974.22 L1220.82,978.64 L1223.65,982.91 L1226.49,987.03 L1229.33,991 L1232.17,994.82 L1235.01,998.48 L1237.84,1002 L1240.68,1005.37 L1243.52,1008.58 L1246.36,1011.66 L1249.2,1014.59 L1252.03,1017.38 L1254.87,1020.04 L1257.71,1022.57 L1260.55,1024.96 L1263.39,1027.24 L1266.23,1029.39 L1269.06,1031.43 L1271.9,1033.36 L1274.74,1035.18 L1277.58,1036.9 L1280.42,1038.53 L1283.25,1040.06 L1286.09,1041.51 L1288.93,1042.87 L1291.77,1044.15 L1294.61,1045.35 L1297.45,1046.49 L1300.28,1047.55 L1303.12,1048.55 L1305.96,1049.49" fill="none" stroke="#F8A93E" stroke-width="6.0" stroke-linejoin="round" stroke-linecap="round"/>
<path d="M738.33,731.22 L741.17,731.23 L744,731.23 L746.84,731.23 L749.68,731.23 L752.52,731.23 L755.36,731.23 L758.2,731.23 L761.03,731.23 L763.87,731.23 L766.71,731.23 L769.55,731.24 L772.39,731.24 L775.22,731.24 L778.06,731.24 L780.9,731.24 L783.74,731.24 L786.58,731.25 L789.41,731.25 L792.25,731.25 L795.09,731.25 L797.93,731.25 L800.77,731.26 L803.61,731.26 L806.44,731.26 L809.28,731.27 L812.12,731.27 L814.96,731.28 L817.8,731.28 L820.63,731.28 L823.47,731.29 L826.31,731.29 L829.15,731.3 L831.99,731.31 L834.83,731.31 L837.66,731.32 L840.5,731.33 L843.34,731.33 L846.18,731.34 L849.02,731.35 L851.85,731.36 L854.69,731.37 L857.53,731.38 L860.37,731.4 L863.21,731.41 L866.05,731.42 L868.88,731.44 L871.72,731.45 L874.56,731.47 L877.4,731.49 L880.24,731.51 L883.07,731.53 L885.91,731.55 L888.75,731.58 L891.59,731.6 L894.43,731.63 L897.26,731.66 L900.1,731.69 L902.94,731.72 L905.78,731.76 L908.62,731.8 L911.46,731.84 L914.29,731.88 L917.13,731.93 L919.97,731.98 L922.81,732.04 L925.65,732.1 L928.48,732.16 L931.32,732.23 L934.16,732.3 L937,732.38 L939.84,732.46 L942.68,732.55 L945.51,732.64 L948.35,732.74 L951.19,732.85 L954.03,732.97 L956.87,733.09 L959.7,733.22 L962.54,733.36 L965.38,733.52 L968.22,733.68 L971.06,733.85 L973.9,734.04 L976.73,734.24 L979.57,734.45 L982.41,734.68 L985.25,734.93 L988.09,735.19 L990.92,735.47 L993.76,735.76 L996.6,736.08 L999.44,736.43 L1002.28,736.79 L1005.12,737.18 L1007.95,737.6 L1010.79,738.04 L1013.63,738.52 L1016.47,739.03 L1019.31,739.57 L1022.14,740.15 L1024.98,740.77 L1027.82,741.43 L1030.66,742.13 L1033.5,742.88 L1036.33,743.69 L1039.17,744.54 L1042.01,745.45 L1044.85,746.42 L1047.69,747.45 L1050.53,748.54 L1053.36,749.71 L1056.2,750.95 L1059.04,752.27 L1061.88,753.66 L1064.72,755.15 L1067.55,756.72 L1070.39,758.39 L1073.23,760.16 L1076.07,762.03 L1078.91,764.01 L1081.75,766.1 L1084.58,768.31 L1087.42,770.64 L1090.26,773.1 L1093.1,775.68 L1095.94,778.4 L1098.77,781.26 L1101.61,784.26 L1104.45,787.4 L1107.29,790.69 L1110.13,794.12 L1112.97,797.71 L1115.8,801.44 L1118.64,805.33 L1121.48,809.37 L1124.32,813.56 L1127.16,817.9 L1129.99,822.38 L1132.83,827 L1135.67,831.76 L1138.51,836.65 L1141.35,841.67 L1144.18,846.8 L1147.02,852.04 L1149.86,857.38 L1152.7,862.81 L1155.54,868.32 L1158.38,873.89 L1161.21,879.52 L1164.05,885.19 L1166.89,890.89 L1169.73,896.6 L1172.57,902.31 L1175.4,908.01 L1178.24,913.69 L1181.08,919.33 L1183.92,924.92 L1186.76,930.44 L1189.6,935.89 L1192.43,941.25 L1195.27,946.51 L1198.11,951.67 L1200.95,956.71 L1203.79,961.64 L1206.62,966.43 L1209.46,971.08 L1212.3,975.6 L1215.14,979.97 L1217.98,984.19 L1220.82,988.26 L1223.65,992.19 L1226.49,995.96 L1229.33,999.58 L1232.17,1003.05 L1235.01,1006.37 L1237.84,1009.55 L1240.68,1012.58 L1243.52,1015.46 L1246.36,1018.22 L1249.2,1020.83 L1252.03,1023.32 L1254.87,1025.68 L1257.71,1027.91 L1260.55,1030.03 L1263.39,1032.04 L1266.23,1033.93 L1269.06,1035.72 L1271.9,1037.41 L1274.74,1039.01 L1277.58,1040.52 L1280.42,1041.93 L1283.25,1043.27 L1286.09,1044.53 L1288.93,1045.71 L1291.77,1046.82 L1294.61,1047.87 L1297.45,1048.85 L1300.28,1049.77 L1303.12,1050.64 L1305.96,1051.45" fill="none" stroke="#000" stroke-width="2.6" stroke-linejoin="round" />
<line x1="780.19" y1="721" x2="780.19" y2="738.03" stroke="#000" stroke-width="2.4" />
<line x1="771.54" y1="721" x2="788.84" y2="721" stroke="#000" stroke-width="2.4" />
<line x1="771.54" y1="738.03" x2="788.84" y2="738.03" stroke="#000" stroke-width="2.4" />
<line x1="911.63" y1="749.95" x2="911.63" y2="770.38" stroke="#000" stroke-width="2.4" />
<line x1="902.98" y1="749.95" x2="920.28" y2="749.95" stroke="#000" stroke-width="2.4" />
<line x1="902.98" y1="770.38" x2="920.28" y2="770.38" stroke="#000" stroke-width="2.4" />
<line x1="977.36" y1="726.11" x2="977.36" y2="743.14" stroke="#000" stroke-width="2.4" />
<line x1="968.71" y1="726.11" x2="986.01" y2="726.11" stroke="#000" stroke-width="2.4" />
<line x1="968.71" y1="743.14" x2="986.01" y2="743.14" stroke="#000" stroke-width="2.4" />
<line x1="1043.08" y1="717.25" x2="1043.08" y2="753.69" stroke="#000" stroke-width="2.4" />
<line x1="1034.43" y1="717.25" x2="1051.73" y2="717.25" stroke="#000" stroke-width="2.4" />
<line x1="1034.43" y1="753.69" x2="1051.73" y2="753.69" stroke="#000" stroke-width="2.4" />
<line x1="1043.08" y1="720.66" x2="1043.08" y2="739.73" stroke="#000" stroke-width="2.4" />
<line x1="1034.43" y1="720.66" x2="1051.73" y2="720.66" stroke="#000" stroke-width="2.4" />
<line x1="1034.43" y1="739.73" x2="1051.73" y2="739.73" stroke="#000" stroke-width="2.4" />
<line x1="1108.8" y1="738.03" x2="1108.8" y2="773.79" stroke="#000" stroke-width="2.4" />
<line x1="1100.15" y1="738.03" x2="1117.45" y2="738.03" stroke="#000" stroke-width="2.4" />
<line x1="1100.15" y1="773.79" x2="1117.45" y2="773.79" stroke="#000" stroke-width="2.4" />
<line x1="1174.52" y1="891.3" x2="1174.52" y2="915.14" stroke="#000" stroke-width="2.4" />
<line x1="1165.87" y1="891.3" x2="1183.17" y2="891.3" stroke="#000" stroke-width="2.4" />
<line x1="1165.87" y1="915.14" x2="1183.17" y2="915.14" stroke="#000" stroke-width="2.4" />
<line x1="1174.52" y1="910.03" x2="1174.52" y2="942.39" stroke="#000" stroke-width="2.4" />
<line x1="1165.87" y1="910.03" x2="1183.17" y2="910.03" stroke="#000" stroke-width="2.4" />
<line x1="1165.87" y1="942.39" x2="1183.17" y2="942.39" stroke="#000" stroke-width="2.4" />
<line x1="1240.24" y1="969.63" x2="1240.24" y2="984.96" stroke="#000" stroke-width="2.4" />
<line x1="1231.59" y1="969.63" x2="1248.89" y2="969.63" stroke="#000" stroke-width="2.4" />
<line x1="1231.59" y1="984.96" x2="1248.89" y2="984.96" stroke="#000" stroke-width="2.4" />
<line x1="1305.96" y1="1053.08" x2="1305.96" y2="1063.3" stroke="#000" stroke-width="2.4" />
<line x1="1297.31" y1="1053.08" x2="1314.61" y2="1053.08" stroke="#000" stroke-width="2.4" />
<line x1="1297.31" y1="1063.3" x2="1314.61" y2="1063.3" stroke="#000" stroke-width="2.4" />
<circle cx="780.19" cy="730.87" r="7.2" fill="#F8A93E" stroke="#000" stroke-width="1.7"/>
<circle cx="845.91" cy="738.03" r="7.2" fill="#F8A93E" stroke="#000" stroke-width="1.7"/>
<circle cx="911.63" cy="758.46" r="7.2" fill="#F8A93E" stroke="#000" stroke-width="1.7"/>
<circle cx="977.36" cy="746.54" r="7.2" fill="#F8A93E" stroke="#000" stroke-width="1.7"/>
<circle cx="1043.08" cy="740.07" r="7.2" fill="#F8A93E" stroke="#000" stroke-width="1.7"/>
<circle cx="1108.8" cy="757.44" r="7.2" fill="#F8A93E" stroke="#000" stroke-width="1.7"/>
<circle cx="1174.52" cy="904.92" r="7.2" fill="#F8A93E" stroke="#000" stroke-width="1.7"/>
<circle cx="1240.24" cy="978.15" r="7.2" fill="#F8A93E" stroke="#000" stroke-width="1.7"/>
<circle cx="1305.96" cy="1063.3" r="7.2" fill="#F8A93E" stroke="#000" stroke-width="1.7"/>
<circle cx="780.19" cy="722.02" r="7.2" fill="#000"/>
<circle cx="845.91" cy="726.11" r="7.2" fill="#000"/>
<circle cx="911.63" cy="728.49" r="7.2" fill="#000"/>
<circle cx="977.36" cy="737.01" r="7.2" fill="#000"/>
<circle cx="1043.08" cy="730.19" r="7.2" fill="#000"/>
<circle cx="1108.8" cy="771.41" r="7.2" fill="#000"/>
<circle cx="1174.52" cy="928.42" r="7.2" fill="#000"/>
<circle cx="1240.24" cy="978.15" r="7.2" fill="#000"/>
<circle cx="1305.96" cy="1063.3" r="7.2" fill="#000"/>
<line x1="1424.9" y1="688.4" x2="1424.9" y2="1077.4" stroke="#000" stroke-width="2.4" />
<line x1="1414" y1="1067" x2="1992.5" y2="1067" stroke="#000" stroke-width="2.4" />
<line x1="1414" y1="1067" x2="1424.9" y2="1067" stroke="#000" stroke-width="2.4" />
<line x1="1419" y1="1032.58" x2="1424.9" y2="1032.58" stroke="#000" stroke-width="2.4" />
<line x1="1419" y1="998.16" x2="1424.9" y2="998.16" stroke="#000" stroke-width="2.4" />
<line x1="1419" y1="963.74" x2="1424.9" y2="963.74" stroke="#000" stroke-width="2.4" />
<line x1="1419" y1="929.32" x2="1424.9" y2="929.32" stroke="#000" stroke-width="2.4" />
<line x1="1414" y1="894.9" x2="1424.9" y2="894.9" stroke="#000" stroke-width="2.4" />
<line x1="1419" y1="860.48" x2="1424.9" y2="860.48" stroke="#000" stroke-width="2.4" />
<line x1="1419" y1="826.06" x2="1424.9" y2="826.06" stroke="#000" stroke-width="2.4" />
<line x1="1419" y1="791.64" x2="1424.9" y2="791.64" stroke="#000" stroke-width="2.4" />
<line x1="1419" y1="757.22" x2="1424.9" y2="757.22" stroke="#000" stroke-width="2.4" />
<line x1="1414" y1="722.8" x2="1424.9" y2="722.8" stroke="#000" stroke-width="2.4" />
<line x1="1419" y1="688.38" x2="1424.9" y2="688.38" stroke="#000" stroke-width="2.4" />
<line x1="1424.9" y1="1067" x2="1424.9" y2="1077.4" stroke="#000" stroke-width="2.4" />
<line x1="1447.58" y1="1067" x2="1447.58" y2="1073" stroke="#000" stroke-width="2.4" />
<line x1="1470.26" y1="1067" x2="1470.26" y2="1073" stroke="#000" stroke-width="2.4" />
<line x1="1492.94" y1="1067" x2="1492.94" y2="1073" stroke="#000" stroke-width="2.4" />
<line x1="1515.62" y1="1067" x2="1515.62" y2="1073" stroke="#000" stroke-width="2.4" />
<line x1="1538.3" y1="1067" x2="1538.3" y2="1077.4" stroke="#000" stroke-width="2.4" />
<line x1="1560.98" y1="1067" x2="1560.98" y2="1073" stroke="#000" stroke-width="2.4" />
<line x1="1583.66" y1="1067" x2="1583.66" y2="1073" stroke="#000" stroke-width="2.4" />
<line x1="1606.34" y1="1067" x2="1606.34" y2="1073" stroke="#000" stroke-width="2.4" />
<line x1="1629.02" y1="1067" x2="1629.02" y2="1073" stroke="#000" stroke-width="2.4" />
<line x1="1651.7" y1="1067" x2="1651.7" y2="1077.4" stroke="#000" stroke-width="2.4" />
<line x1="1674.38" y1="1067" x2="1674.38" y2="1073" stroke="#000" stroke-width="2.4" />
<line x1="1697.06" y1="1067" x2="1697.06" y2="1073" stroke="#000" stroke-width="2.4" />
<line x1="1719.74" y1="1067" x2="1719.74" y2="1073" stroke="#000" stroke-width="2.4" />
<line x1="1742.42" y1="1067" x2="1742.42" y2="1073" stroke="#000" stroke-width="2.4" />
<line x1="1765.1" y1="1067" x2="1765.1" y2="1077.4" stroke="#000" stroke-width="2.4" />
<line x1="1787.78" y1="1067" x2="1787.78" y2="1073" stroke="#000" stroke-width="2.4" />
<line x1="1810.46" y1="1067" x2="1810.46" y2="1073" stroke="#000" stroke-width="2.4" />
<line x1="1833.14" y1="1067" x2="1833.14" y2="1073" stroke="#000" stroke-width="2.4" />
<line x1="1855.82" y1="1067" x2="1855.82" y2="1073" stroke="#000" stroke-width="2.4" />
<line x1="1878.5" y1="1067" x2="1878.5" y2="1077.4" stroke="#000" stroke-width="2.4" />
<line x1="1901.18" y1="1067" x2="1901.18" y2="1073" stroke="#000" stroke-width="2.4" />
<line x1="1923.86" y1="1067" x2="1923.86" y2="1073" stroke="#000" stroke-width="2.4" />
<line x1="1946.54" y1="1067" x2="1946.54" y2="1073" stroke="#000" stroke-width="2.4" />
<line x1="1969.22" y1="1067" x2="1969.22" y2="1073" stroke="#000" stroke-width="2.4" />
<line x1="1991.9" y1="1067" x2="1991.9" y2="1077.4" stroke="#000" stroke-width="2.4" />
<text x="1409.9" y="1077.2" font-size="28.5" text-anchor="end" fill="#000" >0</text>
<text x="1409.9" y="905.1" font-size="28.5" text-anchor="end" fill="#000" >50</text>
<text x="1409.9" y="733" font-size="28.5" text-anchor="end" fill="#000" >100</text>
<text x="1424.9" y="1107.5" font-size="28.5" text-anchor="middle" fill="#000" >-4</text>
<text x="1538.3" y="1107.5" font-size="28.5" text-anchor="middle" fill="#000" >-3</text>
<text x="1651.7" y="1107.5" font-size="28.5" text-anchor="middle" fill="#000" >-2</text>
<text x="1765.1" y="1107.5" font-size="28.5" text-anchor="middle" fill="#000" >-1</text>
<text x="1878.5" y="1107.5" font-size="28.5" text-anchor="middle" fill="#000" >0</text>
<text x="1991.9" y="1107.5" font-size="28.5" text-anchor="middle" fill="#000" >1</text>
<text x="1462.1" y="692" font-size="36.4" text-anchor="start" fill="#000" >non-HMA RNR poison</text>
<text transform="translate(1357.4,894.7) rotate(-90)" x="0" y="0" font-size="30.8" text-anchor="middle" >relative tagRFP+ cell count</text>
<text x="1542.8" y="1146.8" font-size="30.8">log<tspan font-size="17.4" dy="10.4">10</tspan><tspan dy="-10.4"> [Hydroxyurea] (µM)</tspan></text>
<line x1="1424.9" y1="894.9" x2="1993" y2="894.9" stroke="#000" stroke-width="3.3" stroke-linecap="round" stroke-dasharray="0 5.65"/>
<path d="M1424.9,723.05 L1426.97,723.07 L1429.04,723.09 L1431.11,723.11 L1433.18,723.13 L1435.25,723.16 L1437.32,723.19 L1439.39,723.22 L1441.46,723.25 L1443.53,723.28 L1445.6,723.32 L1447.67,723.36 L1449.73,723.4 L1451.8,723.45 L1453.87,723.49 L1455.94,723.55 L1458.01,723.6 L1460.08,723.67 L1462.15,723.73 L1464.22,723.8 L1466.29,723.88 L1468.36,723.96 L1470.43,724.05 L1472.5,724.14 L1474.57,724.25 L1476.64,724.36 L1478.71,724.47 L1480.78,724.6 L1482.85,724.74 L1484.92,724.89 L1486.99,725.04 L1489.06,725.21 L1491.13,725.4 L1493.2,725.59 L1495.26,725.8 L1497.33,726.03 L1499.4,726.27 L1501.47,726.54 L1503.54,726.82 L1505.61,727.12 L1507.68,727.45 L1509.75,727.8 L1511.82,728.17 L1513.89,728.57 L1515.96,729.01 L1518.03,729.47 L1520.1,729.97 L1522.17,730.51 L1524.24,731.08 L1526.31,731.69 L1528.38,732.35 L1530.45,733.06 L1532.52,733.82 L1534.59,734.63 L1536.66,735.5 L1538.73,736.43 L1540.79,737.43 L1542.86,738.49 L1544.93,739.63 L1547,740.85 L1549.07,742.15 L1551.14,743.54 L1553.21,745.02 L1555.28,746.6 L1557.35,748.28 L1559.42,750.07 L1561.49,751.97 L1563.56,754 L1565.63,756.15 L1567.7,758.43 L1569.77,760.85 L1571.84,763.41 L1573.91,766.12 L1575.98,768.98 L1578.05,772 L1580.12,775.18 L1582.19,778.53 L1584.26,782.05 L1586.32,785.75 L1588.39,789.62 L1590.46,793.67 L1592.53,797.89 L1594.6,802.3 L1596.67,806.89 L1598.74,811.65 L1600.81,816.58 L1602.88,821.68 L1604.95,826.94 L1607.02,832.36 L1609.09,837.92 L1611.16,843.63 L1613.23,849.45 L1615.3,855.39 L1617.37,861.44 L1619.44,867.57 L1621.51,873.77 L1623.58,880.03 L1625.65,886.33 L1627.72,892.65 L1629.79,898.97 L1631.86,905.29 L1633.92,911.58 L1635.99,917.82 L1638.06,924 L1640.13,930.11 L1642.2,936.13 L1644.27,942.04 L1646.34,947.83 L1648.41,953.49 L1650.48,959.01 L1652.55,964.39 L1654.62,969.6 L1656.69,974.66 L1658.76,979.54 L1660.83,984.25 L1662.9,988.78 L1664.97,993.14 L1667.04,997.32 L1669.11,1001.31 L1671.18,1005.13 L1673.25,1008.78 L1675.32,1012.25 L1677.39,1015.55 L1679.45,1018.69 L1681.52,1021.66 L1683.59,1024.48 L1685.66,1027.14 L1687.73,1029.66 L1689.8,1032.04 L1691.87,1034.28 L1693.94,1036.4 L1696.01,1038.39 L1698.08,1040.26 L1700.15,1042.02 L1702.22,1043.67 L1704.29,1045.22 L1706.36,1046.67 L1708.43,1048.03 L1710.5,1049.31 L1712.57,1050.5 L1714.64,1051.62 L1716.71,1052.66 L1718.78,1053.64 L1720.85,1054.55 L1722.92,1055.41 L1724.98,1056.2 L1727.05,1056.95 L1729.12,1057.64 L1731.19,1058.29 L1733.26,1058.89 L1735.33,1059.45 L1737.4,1059.98 L1739.47,1060.47 L1741.54,1060.92 L1743.61,1061.34 L1745.68,1061.74 L1747.75,1062.11 L1749.82,1062.45 L1751.89,1062.77 L1753.96,1063.06 L1756.03,1063.34 L1758.1,1063.6 L1760.17,1063.84 L1762.24,1064.06 L1764.31,1064.27 L1766.38,1064.46 L1768.45,1064.64 L1770.51,1064.8 L1772.58,1064.96 L1774.65,1065.1 L1776.72,1065.24 L1778.79,1065.36 L1780.86,1065.48 L1782.93,1065.58 L1785,1065.68 L1787.07,1065.78 L1789.14,1065.86 L1791.21,1065.94 L1793.28,1066.02 L1795.35,1066.09 L1797.42,1066.15 L1799.49,1066.21 L1801.56,1066.27 L1803.63,1066.32 L1805.7,1066.37 L1807.77,1066.41 L1809.84,1066.45 L1811.91,1066.49 L1813.98,1066.53 L1816.04,1066.56 L1818.11,1066.59 L1820.18,1066.62 L1822.25,1066.65 L1824.32,1066.67 L1826.39,1066.7 L1828.46,1066.72 L1830.53,1066.74 L1832.6,1066.76 L1834.67,1066.77 L1836.74,1066.79 L1838.81,1066.8" fill="none" stroke="#FBB42C" stroke-width="5.5" stroke-linejoin="round" />
<path d="M1424.9,724.86 L1426.97,724.99 L1429.04,725.13 L1431.11,725.27 L1433.18,725.43 L1435.25,725.59 L1437.32,725.76 L1439.39,725.95 L1441.46,726.14 L1443.53,726.35 L1445.6,726.57 L1447.67,726.81 L1449.73,727.06 L1451.8,727.32 L1453.87,727.6 L1455.94,727.9 L1458.01,728.21 L1460.08,728.55 L1462.15,728.9 L1464.22,729.28 L1466.29,729.68 L1468.36,730.1 L1470.43,730.55 L1472.5,731.02 L1474.57,731.53 L1476.64,732.06 L1478.71,732.62 L1480.78,733.22 L1482.85,733.86 L1484.92,734.53 L1486.99,735.24 L1489.06,735.99 L1491.13,736.78 L1493.2,737.63 L1495.26,738.51 L1497.33,739.45 L1499.4,740.45 L1501.47,741.49 L1503.54,742.6 L1505.61,743.77 L1507.68,745 L1509.75,746.3 L1511.82,747.67 L1513.89,749.12 L1515.96,750.63 L1518.03,752.23 L1520.1,753.92 L1522.17,755.68 L1524.24,757.54 L1526.31,759.49 L1528.38,761.54 L1530.45,763.68 L1532.52,765.93 L1534.59,768.28 L1536.66,770.74 L1538.73,773.31 L1540.79,775.99 L1542.86,778.79 L1544.93,781.71 L1547,784.74 L1549.07,787.9 L1551.14,791.17 L1553.21,794.57 L1555.28,798.1 L1557.35,801.74 L1559.42,805.51 L1561.49,809.4 L1563.56,813.41 L1565.63,817.53 L1567.7,821.78 L1569.77,826.13 L1571.84,830.59 L1573.91,835.15 L1575.98,839.81 L1578.05,844.56 L1580.12,849.39 L1582.19,854.31 L1584.26,859.29 L1586.32,864.34 L1588.39,869.45 L1590.46,874.6 L1592.53,879.78 L1594.6,885 L1596.67,890.23 L1598.74,895.47 L1600.81,900.72 L1602.88,905.95 L1604.95,911.16 L1607.02,916.34 L1609.09,921.48 L1611.16,926.57 L1613.23,931.6 L1615.3,936.58 L1617.37,941.47 L1619.44,946.29 L1621.51,951.02 L1623.58,955.66 L1625.65,960.2 L1627.72,964.64 L1629.79,968.96 L1631.86,973.18 L1633.92,977.28 L1635.99,981.26 L1638.06,985.12 L1640.13,988.87 L1642.2,992.48 L1644.27,995.98 L1646.34,999.35 L1648.41,1002.6 L1650.48,1005.73 L1652.55,1008.74 L1654.62,1011.63 L1656.69,1014.4 L1658.76,1017.06 L1660.83,1019.61 L1662.9,1022.04 L1664.97,1024.37 L1667.04,1026.6 L1669.11,1028.72 L1671.18,1030.74 L1673.25,1032.67 L1675.32,1034.51 L1677.39,1036.26 L1679.45,1037.92 L1681.52,1039.5 L1683.59,1041.01 L1685.66,1042.43 L1687.73,1043.79 L1689.8,1045.07 L1691.87,1046.29 L1693.94,1047.45 L1696.01,1048.54 L1698.08,1049.58 L1700.15,1050.56 L1702.22,1051.48 L1704.29,1052.36 L1706.36,1053.19 L1708.43,1053.98 L1710.5,1054.72 L1712.57,1055.42 L1714.64,1056.09 L1716.71,1056.71 L1718.78,1057.3 L1720.85,1057.86 L1722.92,1058.39 L1724.98,1058.88 L1727.05,1059.35 L1729.12,1059.8 L1731.19,1060.21 L1733.26,1060.61 L1735.33,1060.98 L1737.4,1061.33 L1739.47,1061.66 L1741.54,1061.97 L1743.61,1062.26 L1745.68,1062.54 L1747.75,1062.8 L1749.82,1063.05 L1751.89,1063.28 L1753.96,1063.49 L1756.03,1063.7 L1758.1,1063.89 L1760.17,1064.07 L1762.24,1064.25 L1764.31,1064.41 L1766.38,1064.56 L1768.45,1064.7 L1770.51,1064.84 L1772.58,1064.97 L1774.65,1065.08 L1776.72,1065.2 L1778.79,1065.3 L1780.86,1065.4 L1782.93,1065.5 L1785,1065.59 L1787.07,1065.67 L1789.14,1065.75 L1791.21,1065.82 L1793.28,1065.89 L1795.35,1065.96 L1797.42,1066.02 L1799.49,1066.08 L1801.56,1066.13 L1803.63,1066.18 L1805.7,1066.23 L1807.77,1066.28 L1809.84,1066.32 L1811.91,1066.36 L1813.98,1066.4 L1816.04,1066.43 L1818.11,1066.47 L1820.18,1066.5 L1822.25,1066.53 L1824.32,1066.55 L1826.39,1066.58 L1828.46,1066.61 L1830.53,1066.63 L1832.6,1066.65 L1834.67,1066.67 L1836.74,1066.69 L1838.81,1066.71" fill="none" stroke="#E62E27" stroke-width="5.0" stroke-linejoin="round" />
<path d="M1424.9,724.65 L1426.97,724.77 L1429.04,724.89 L1431.11,725.02 L1433.18,725.16 L1435.25,725.31 L1437.32,725.47 L1439.39,725.63 L1441.46,725.81 L1443.53,726 L1445.6,726.19 L1447.67,726.41 L1449.73,726.63 L1451.8,726.87 L1453.87,727.12 L1455.94,727.39 L1458.01,727.67 L1460.08,727.97 L1462.15,728.29 L1464.22,728.63 L1466.29,728.99 L1468.36,729.37 L1470.43,729.78 L1472.5,730.21 L1474.57,730.66 L1476.64,731.14 L1478.71,731.65 L1480.78,732.2 L1482.85,732.77 L1484.92,733.38 L1486.99,734.02 L1489.06,734.7 L1491.13,735.42 L1493.2,736.18 L1495.26,736.99 L1497.33,737.84 L1499.4,738.74 L1501.47,739.69 L1503.54,740.7 L1505.61,741.76 L1507.68,742.88 L1509.75,744.07 L1511.82,745.32 L1513.89,746.63 L1515.96,748.02 L1518.03,749.48 L1520.1,751.02 L1522.17,752.64 L1524.24,754.34 L1526.31,756.13 L1528.38,758.01 L1530.45,759.99 L1532.52,762.06 L1534.59,764.23 L1536.66,766.5 L1538.73,768.88 L1540.79,771.36 L1542.86,773.96 L1544.93,776.67 L1547,779.5 L1549.07,782.44 L1551.14,785.51 L1553.21,788.69 L1555.28,792 L1557.35,795.43 L1559.42,798.99 L1561.49,802.66 L1563.56,806.46 L1565.63,810.38 L1567.7,814.42 L1569.77,818.57 L1571.84,822.84 L1573.91,827.22 L1575.98,831.7 L1578.05,836.29 L1580.12,840.97 L1582.19,845.74 L1584.26,850.6 L1586.32,855.53 L1588.39,860.53 L1590.46,865.6 L1592.53,870.71 L1594.6,875.87 L1596.67,881.07 L1598.74,886.29 L1600.81,891.52 L1602.88,896.77 L1604.95,902.01 L1607.02,907.23 L1609.09,912.44 L1611.16,917.61 L1613.23,922.74 L1615.3,927.82 L1617.37,932.84 L1619.44,937.79 L1621.51,942.67 L1623.58,947.47 L1625.65,952.18 L1627.72,956.79 L1629.79,961.3 L1631.86,965.71 L1633.92,970.01 L1635.99,974.2 L1638.06,978.27 L1640.13,982.23 L1642.2,986.06 L1644.27,989.77 L1646.34,993.36 L1648.41,996.82 L1650.48,1000.17 L1652.55,1003.39 L1654.62,1006.49 L1656.69,1009.47 L1658.76,1012.33 L1660.83,1015.07 L1662.9,1017.7 L1664.97,1020.22 L1667.04,1022.63 L1669.11,1024.93 L1671.18,1027.13 L1673.25,1029.23 L1675.32,1031.23 L1677.39,1033.13 L1679.45,1034.95 L1681.52,1036.68 L1683.59,1038.32 L1685.66,1039.88 L1687.73,1041.37 L1689.8,1042.77 L1691.87,1044.11 L1693.94,1045.38 L1696.01,1046.58 L1698.08,1047.72 L1700.15,1048.8 L1702.22,1049.82 L1704.29,1050.79 L1706.36,1051.71 L1708.43,1052.57 L1710.5,1053.39 L1712.57,1054.17 L1714.64,1054.9 L1716.71,1055.59 L1718.78,1056.24 L1720.85,1056.86 L1722.92,1057.44 L1724.98,1057.99 L1727.05,1058.51 L1729.12,1059 L1731.19,1059.46 L1733.26,1059.9 L1735.33,1060.31 L1737.4,1060.7 L1739.47,1061.07 L1741.54,1061.41 L1743.61,1061.74 L1745.68,1062.04 L1747.75,1062.33 L1749.82,1062.6 L1751.89,1062.86 L1753.96,1063.1 L1756.03,1063.33 L1758.1,1063.55 L1760.17,1063.75 L1762.24,1063.94 L1764.31,1064.12 L1766.38,1064.29 L1768.45,1064.45 L1770.51,1064.6 L1772.58,1064.74 L1774.65,1064.87 L1776.72,1065 L1778.79,1065.11 L1780.86,1065.22 L1782.93,1065.33 L1785,1065.43 L1787.07,1065.52 L1789.14,1065.61 L1791.21,1065.69 L1793.28,1065.77 L1795.35,1065.84 L1797.42,1065.91 L1799.49,1065.97 L1801.56,1066.03 L1803.63,1066.09 L1805.7,1066.14 L1807.77,1066.19 L1809.84,1066.24 L1811.91,1066.29 L1813.98,1066.33 L1816.04,1066.37 L1818.11,1066.4 L1820.18,1066.44 L1822.25,1066.47 L1824.32,1066.5 L1826.39,1066.53 L1828.46,1066.56 L1830.53,1066.59 L1832.6,1066.61 L1834.67,1066.63 L1836.74,1066.66 L1838.81,1066.68" fill="none" stroke="#000" stroke-width="3.0" stroke-linejoin="round" />
<line x1="1633.22" y1="889.39" x2="1633.22" y2="914.52" stroke="#000" stroke-width="2.4" />
<line x1="1624.57" y1="889.39" x2="1641.87" y2="889.39" stroke="#000" stroke-width="2.4" />
<line x1="1624.57" y1="914.52" x2="1641.87" y2="914.52" stroke="#000" stroke-width="2.4" />
<circle cx="1633.22" cy="965.12" r="8.4" fill="#000"/>
<circle cx="1687.31" cy="1038.43" r="8.4" fill="#000"/>
<circle cx="1741.4" cy="1064.25" r="8.4" fill="#000"/>
<circle cx="1795.49" cy="1064.93" r="8.4" fill="#000"/>
<circle cx="1849.58" cy="1065.28" r="8.4" fill="#000"/>
<circle cx="1903.67" cy="1065.28" r="8.4" fill="#000"/>
<circle cx="1957.77" cy="1065.97" r="7.2" fill="#000"/>
<circle cx="1633.22" cy="977.16" r="7.2" fill="#EC1C24" stroke="#000" stroke-width="2.4"/>
<circle cx="1687.31" cy="1044.63" r="7.2" fill="#EC1C24" stroke="#000" stroke-width="2.4"/>
<circle cx="1741.4" cy="1063.56" r="7.2" fill="#EC1C24" stroke="#000" stroke-width="2.4"/>
<circle cx="1633.22" cy="902.13" r="7.2" fill="#F8A93E" stroke="#000" stroke-width="2.4"/>
<circle cx="1687.31" cy="1022.94" r="7.2" fill="#F8A93E" stroke="#000" stroke-width="2.4"/>
<circle cx="1741.4" cy="1059.08" r="7.2" fill="#F8A93E" stroke="#000" stroke-width="2.4"/>
<line x1="1730.2" y1="748.8" x2="1772.9" y2="748.8" stroke="#000" stroke-width="2.5" stroke-linecap="round"/>
<circle cx="1751.5" cy="748.8" r="8.4" fill="#000"/>
<text x="1795.17" y="758" font-size="30.8" text-anchor="start" fill="#000" >sgCONTROL</text>
<line x1="1730.2" y1="786.1" x2="1772.9" y2="786.1" stroke="#F8A93E" stroke-width="2.5" stroke-linecap="round"/>
<circle cx="1751.5" cy="786.1" r="7.5" fill="#F8A93E" stroke="#000" stroke-width="1.7"/>
<text x="1795.17" y="795.3" font-size="30.8" text-anchor="start" fill="#000" >sgTOPORS-1</text>
<line x1="1730.2" y1="823.1" x2="1772.9" y2="823.1" stroke="#EC1C24" stroke-width="2.5" stroke-linecap="round"/>
<circle cx="1751.5" cy="823.1" r="7.5" fill="#EC1C24" stroke="#000" stroke-width="1.7"/>
<text x="1795.17" y="832.3" font-size="30.8" text-anchor="start" fill="#000" >sgTOPORS-2</text>
</svg></body></html>
